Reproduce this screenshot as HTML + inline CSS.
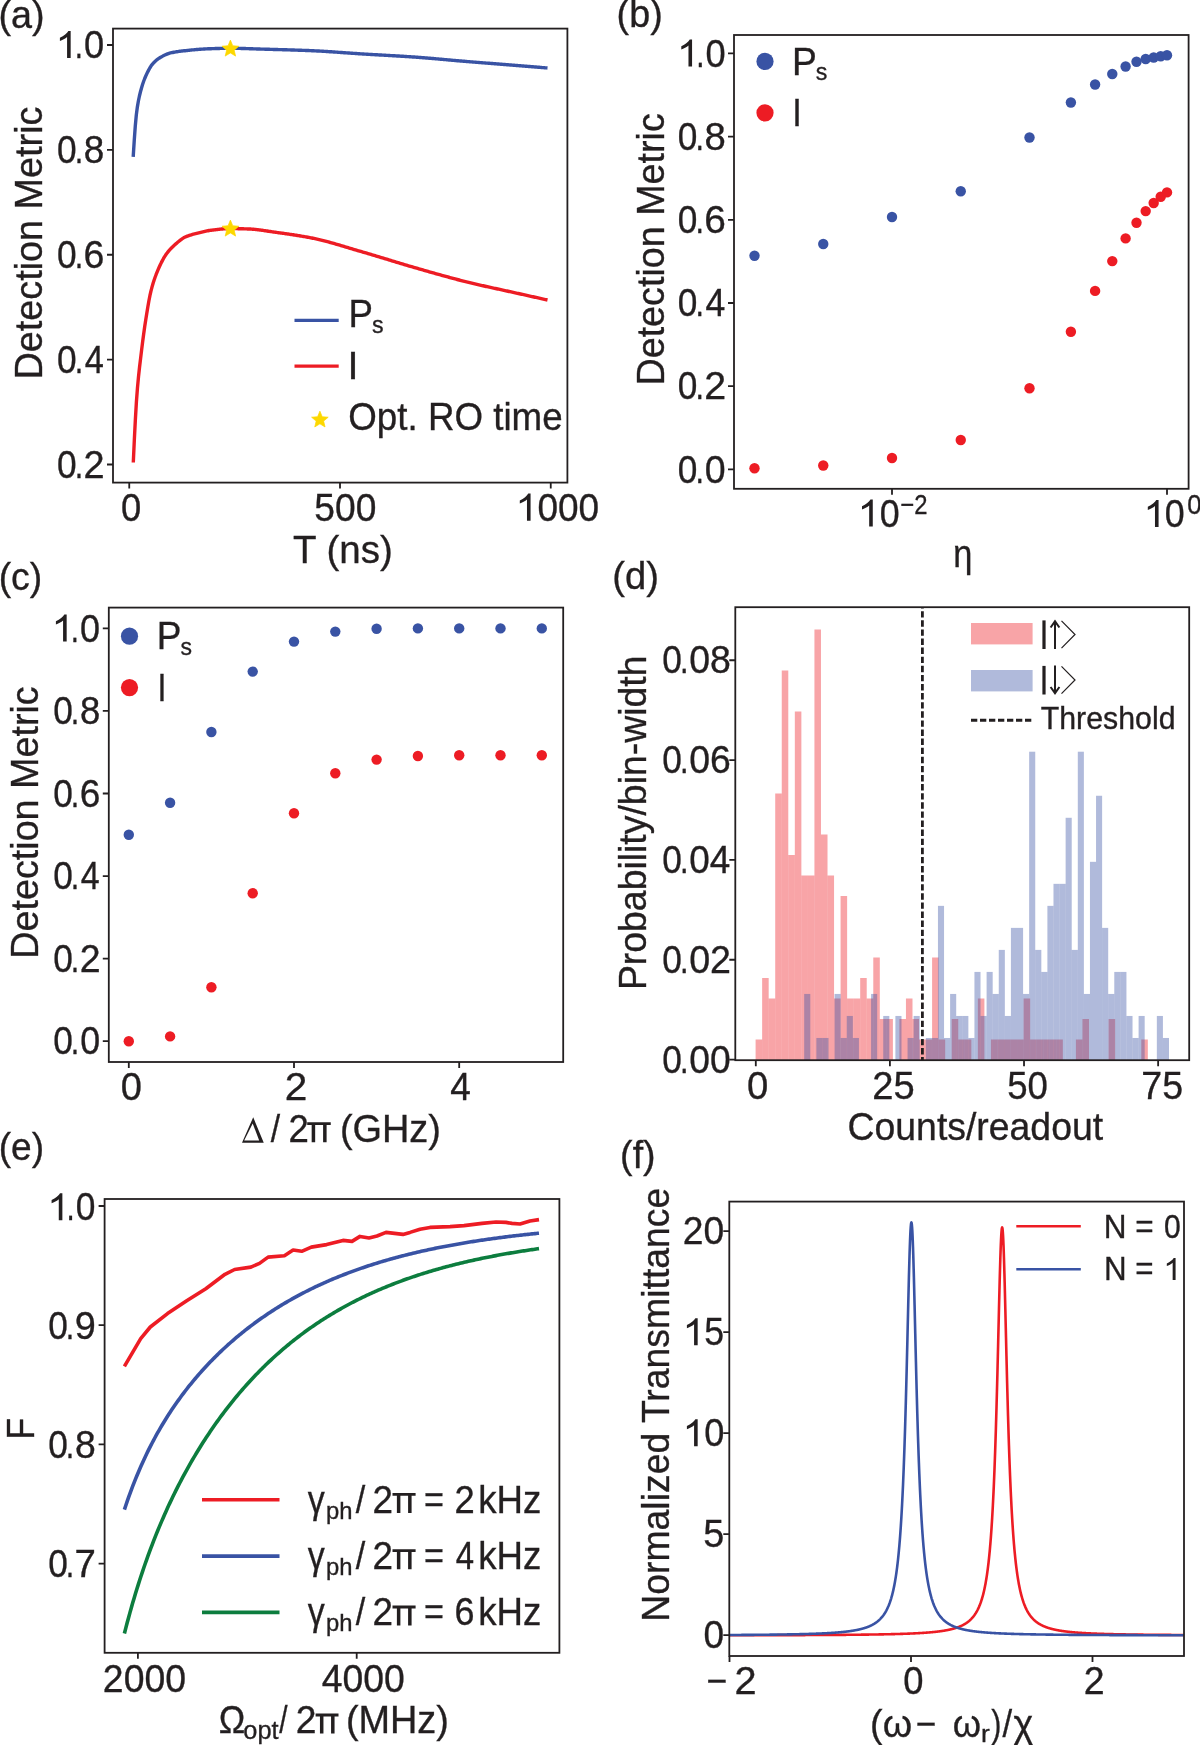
<!DOCTYPE html>
<html><head><meta charset="utf-8"><title>Figure</title><style>
html,body{margin:0;padding:0;background:#fff;width:1200px;height:1745px;overflow:hidden}
svg{display:block;will-change:transform}
text{font-family:"Liberation Sans",sans-serif;font-size:39px;fill:#231f20;stroke:#231f20;stroke-width:0.35px}
</style></head><body>
<svg width="1200" height="1745" viewBox="0 0 1200 1745">
<rect width="1200" height="1745" fill="#fff"/>
<path d="M133.2 156.8 L134.24 140.54 L135.28 126.23 L136.32 114.9 L137.35 107.09 L138.39 100.99 L139.43 95.98 L140.47 91.74 L141.51 87.96 L142.55 84.55 L143.58 81.49 L144.62 78.73 L145.66 76.24 L146.7 73.98 L147.74 71.86 L148.78 69.86 L149.81 68 L150.85 66.32 L151.89 64.83 L152.93 63.57 L153.97 62.47 L155.01 61.46 L156.04 60.53 L157.08 59.68 L158.12 58.91 L159.16 58.2 L160.2 57.55 L161.24 56.95 L162.27 56.38 L163.31 55.83 L164.35 55.31 L165.39 54.82 L166.43 54.36 L167.47 53.94 L168.5 53.56 L169.54 53.23 L170.58 52.95 L171.62 52.71 L172.66 52.49 L173.7 52.28 L174.73 52.09 L175.77 51.91 L176.81 51.74 L177.85 51.59 L178.89 51.44 L179.93 51.3 L180.96 51.17 L182 51.04 L183.04 50.92 L184.08 50.8 L185.12 50.69 L186.16 50.57 L187.19 50.46 L188.23 50.35 L189.27 50.24 L190.31 50.14 L191.35 50.03 L192.39 49.93 L193.42 49.83 L194.46 49.73 L195.5 49.64 L196.54 49.54 L197.58 49.46 L198.62 49.37 L199.65 49.29 L200.69 49.22 L201.73 49.14 L202.77 49.08 L203.81 49.01 L204.85 48.95 L205.88 48.9 L206.92 48.85 L207.96 48.81 L209 48.78 L210.04 48.74 L211.08 48.7 L212.11 48.67 L213.15 48.63 L214.19 48.6 L215.23 48.57 L216.27 48.53 L217.31 48.5 L218.34 48.47 L219.38 48.45 L220.42 48.42 L221.46 48.4 L222.5 48.38 L223.54 48.36 L224.57 48.34 L225.61 48.33 L226.65 48.32 L227.69 48.31 L228.73 48.3 L229.77 48.3 L230.8 48.3 L231.84 48.3 L232.88 48.31 L233.92 48.32 L234.96 48.33 L236 48.35 L237.03 48.36 L238.07 48.38 L239.11 48.4 L240.15 48.42 L241.19 48.45 L242.23 48.47 L243.26 48.5 L244.3 48.53 L245.34 48.56 L246.38 48.59 L247.42 48.62 L248.46 48.66 L249.49 48.69 L250.53 48.72 L251.57 48.76 L252.61 48.79 L253.65 48.83 L254.69 48.87 L255.72 48.9 L256.76 48.94 L257.8 48.97 L258.84 49.01 L259.88 49.04 L260.92 49.08 L261.95 49.11 L262.99 49.14 L264.03 49.17 L265.07 49.2 L266.11 49.23 L267.15 49.26 L268.18 49.29 L269.22 49.32 L270.26 49.35 L271.3 49.38 L272.34 49.41 L273.38 49.44 L274.42 49.46 L275.45 49.49 L276.49 49.52 L277.53 49.55 L278.57 49.58 L279.61 49.61 L280.65 49.64 L281.68 49.67 L282.72 49.7 L283.76 49.73 L284.8 49.76 L285.84 49.79 L286.88 49.82 L287.91 49.85 L288.95 49.89 L289.99 49.92 L291.03 49.95 L292.07 49.98 L293.11 50.02 L294.14 50.05 L295.18 50.08 L296.22 50.12 L297.26 50.15 L298.3 50.19 L299.34 50.22 L300.37 50.26 L301.41 50.3 L302.45 50.34 L303.49 50.37 L304.53 50.41 L305.57 50.45 L306.6 50.49 L307.64 50.53 L308.68 50.57 L309.72 50.62 L310.76 50.66 L311.8 50.7 L312.83 50.75 L313.87 50.8 L314.91 50.85 L315.95 50.9 L316.99 50.95 L318.03 51 L319.06 51.06 L320.1 51.11 L321.14 51.17 L322.18 51.23 L323.22 51.29 L324.26 51.35 L325.29 51.42 L326.33 51.48 L327.37 51.55 L328.41 51.61 L329.45 51.68 L330.49 51.75 L331.52 51.82 L332.56 51.89 L333.6 51.96 L334.64 52.03 L335.68 52.1 L336.72 52.17 L337.75 52.24 L338.79 52.32 L339.83 52.39 L340.87 52.46 L341.91 52.54 L342.95 52.61 L343.98 52.68 L345.02 52.76 L346.06 52.83 L347.1 52.9 L348.14 52.98 L349.18 53.05 L350.21 53.13 L351.25 53.2 L352.29 53.27 L353.33 53.34 L354.37 53.41 L355.41 53.48 L356.44 53.56 L357.48 53.62 L358.52 53.69 L359.56 53.76 L360.6 53.83 L361.64 53.9 L362.67 53.96 L363.71 54.03 L364.75 54.09 L365.79 54.15 L366.83 54.22 L367.87 54.28 L368.9 54.34 L369.94 54.4 L370.98 54.46 L372.02 54.52 L373.06 54.58 L374.1 54.64 L375.13 54.7 L376.17 54.76 L377.21 54.82 L378.25 54.88 L379.29 54.94 L380.33 55 L381.36 55.06 L382.4 55.11 L383.44 55.17 L384.48 55.23 L385.52 55.29 L386.56 55.35 L387.59 55.41 L388.63 55.47 L389.67 55.53 L390.71 55.58 L391.75 55.64 L392.79 55.7 L393.82 55.76 L394.86 55.82 L395.9 55.88 L396.94 55.95 L397.98 56.01 L399.02 56.07 L400.05 56.13 L401.09 56.19 L402.13 56.26 L403.17 56.32 L404.21 56.39 L405.25 56.45 L406.28 56.52 L407.32 56.58 L408.36 56.65 L409.4 56.72 L410.44 56.79 L411.48 56.86 L412.52 56.93 L413.55 57 L414.59 57.07 L415.63 57.14 L416.67 57.22 L417.71 57.29 L418.75 57.37 L419.78 57.45 L420.82 57.53 L421.86 57.61 L422.9 57.69 L423.94 57.77 L424.98 57.86 L426.01 57.94 L427.05 58.03 L428.09 58.11 L429.13 58.2 L430.17 58.29 L431.21 58.38 L432.24 58.47 L433.28 58.56 L434.32 58.65 L435.36 58.74 L436.4 58.83 L437.44 58.92 L438.47 59.01 L439.51 59.1 L440.55 59.2 L441.59 59.29 L442.63 59.38 L443.67 59.48 L444.7 59.57 L445.74 59.66 L446.78 59.76 L447.82 59.85 L448.86 59.94 L449.9 60.04 L450.93 60.13 L451.97 60.22 L453.01 60.32 L454.05 60.41 L455.09 60.5 L456.13 60.59 L457.16 60.69 L458.2 60.78 L459.24 60.87 L460.28 60.96 L461.32 61.05 L462.36 61.14 L463.39 61.22 L464.43 61.31 L465.47 61.4 L466.51 61.48 L467.55 61.57 L468.59 61.65 L469.62 61.74 L470.66 61.82 L471.7 61.91 L472.74 61.99 L473.78 62.08 L474.82 62.16 L475.85 62.24 L476.89 62.33 L477.93 62.41 L478.97 62.49 L480.01 62.57 L481.05 62.66 L482.08 62.74 L483.12 62.82 L484.16 62.9 L485.2 62.98 L486.24 63.07 L487.28 63.15 L488.31 63.23 L489.35 63.31 L490.39 63.39 L491.43 63.47 L492.47 63.56 L493.51 63.64 L494.54 63.72 L495.58 63.8 L496.62 63.88 L497.66 63.96 L498.7 64.04 L499.74 64.13 L500.77 64.21 L501.81 64.29 L502.85 64.37 L503.89 64.45 L504.93 64.53 L505.97 64.62 L507 64.7 L508.04 64.78 L509.08 64.86 L510.12 64.94 L511.16 65.03 L512.2 65.11 L513.23 65.19 L514.27 65.28 L515.31 65.36 L516.35 65.44 L517.39 65.53 L518.43 65.61 L519.46 65.69 L520.5 65.78 L521.54 65.86 L522.58 65.95 L523.62 66.03 L524.66 66.12 L525.69 66.2 L526.73 66.29 L527.77 66.37 L528.81 66.46 L529.85 66.54 L530.89 66.63 L531.92 66.71 L532.96 66.8 L534 66.88 L535.04 66.97 L536.08 67.05 L537.12 67.14 L538.15 67.23 L539.19 67.31 L540.23 67.4 L541.27 67.48 L542.31 67.57 L543.35 67.65 L544.38 67.74 L545.42 67.83 L546.46 67.91 L547.5 68" fill="none" stroke="#3953a4" stroke-width="3.4" stroke-linejoin="round"/>
<path d="M133.3 462.5 L134.34 439.79 L135.38 419.3 L136.41 401.81 L137.45 388.02 L138.49 376.85 L139.53 367.28 L140.57 358.6 L141.6 350.14 L142.64 341.83 L143.68 333.96 L144.72 326.61 L145.76 319.8 L146.8 313.28 L147.83 306.98 L148.87 301.07 L149.91 295.72 L150.95 291.11 L151.99 287.17 L153.02 283.58 L154.06 280.29 L155.1 277.27 L156.14 274.48 L157.18 271.87 L158.21 269.4 L159.25 267.04 L160.29 264.78 L161.33 262.63 L162.37 260.6 L163.4 258.7 L164.44 256.92 L165.48 255.29 L166.52 253.8 L167.56 252.42 L168.6 251.14 L169.63 249.93 L170.67 248.8 L171.71 247.73 L172.75 246.72 L173.79 245.75 L174.82 244.81 L175.86 243.88 L176.9 242.96 L177.94 242.06 L178.98 241.19 L180.01 240.35 L181.05 239.56 L182.09 238.82 L183.13 238.15 L184.17 237.55 L185.2 237.03 L186.24 236.59 L187.28 236.17 L188.32 235.79 L189.36 235.42 L190.4 235.08 L191.43 234.76 L192.47 234.45 L193.51 234.16 L194.55 233.88 L195.59 233.62 L196.62 233.36 L197.66 233.11 L198.7 232.87 L199.74 232.63 L200.78 232.39 L201.81 232.14 L202.85 231.9 L203.89 231.65 L204.93 231.41 L205.97 231.17 L207 230.95 L208.04 230.73 L209.08 230.53 L210.12 230.35 L211.16 230.2 L212.2 230.06 L213.23 229.94 L214.27 229.82 L215.31 229.69 L216.35 229.57 L217.39 229.46 L218.42 229.34 L219.46 229.24 L220.5 229.13 L221.54 229.04 L222.58 228.95 L223.61 228.87 L224.65 228.8 L225.69 228.74 L226.73 228.69 L227.77 228.65 L228.8 228.62 L229.84 228.6 L230.88 228.6 L231.92 228.6 L232.96 228.61 L234 228.62 L235.03 228.63 L236.07 228.64 L237.11 228.66 L238.15 228.68 L239.19 228.7 L240.22 228.73 L241.26 228.75 L242.3 228.78 L243.34 228.81 L244.38 228.84 L245.41 228.88 L246.45 228.91 L247.49 228.94 L248.53 228.98 L249.57 229.02 L250.6 229.07 L251.64 229.13 L252.68 229.2 L253.72 229.29 L254.76 229.38 L255.8 229.48 L256.83 229.6 L257.87 229.72 L258.91 229.85 L259.95 229.98 L260.99 230.12 L262.02 230.26 L263.06 230.41 L264.1 230.57 L265.14 230.72 L266.18 230.88 L267.21 231.04 L268.25 231.2 L269.29 231.36 L270.33 231.52 L271.37 231.67 L272.4 231.83 L273.44 231.98 L274.48 232.13 L275.52 232.27 L276.56 232.41 L277.6 232.56 L278.63 232.7 L279.67 232.85 L280.71 232.99 L281.75 233.13 L282.79 233.28 L283.82 233.43 L284.86 233.57 L285.9 233.72 L286.94 233.87 L287.98 234.02 L289.01 234.17 L290.05 234.33 L291.09 234.48 L292.13 234.64 L293.17 234.8 L294.2 234.96 L295.24 235.12 L296.28 235.28 L297.32 235.45 L298.36 235.61 L299.4 235.78 L300.43 235.96 L301.47 236.13 L302.51 236.31 L303.55 236.49 L304.59 236.67 L305.62 236.85 L306.66 237.04 L307.7 237.23 L308.74 237.43 L309.78 237.63 L310.81 237.83 L311.85 238.03 L312.89 238.24 L313.93 238.45 L314.97 238.67 L316 238.9 L317.04 239.13 L318.08 239.37 L319.12 239.61 L320.16 239.86 L321.2 240.11 L322.23 240.36 L323.27 240.62 L324.31 240.89 L325.35 241.15 L326.39 241.42 L327.42 241.7 L328.46 241.98 L329.5 242.26 L330.54 242.54 L331.58 242.83 L332.61 243.12 L333.65 243.42 L334.69 243.71 L335.73 244.01 L336.77 244.31 L337.8 244.61 L338.84 244.92 L339.88 245.22 L340.92 245.53 L341.96 245.84 L343 246.15 L344.03 246.46 L345.07 246.77 L346.11 247.08 L347.15 247.4 L348.19 247.71 L349.22 248.02 L350.26 248.34 L351.3 248.65 L352.34 248.96 L353.38 249.27 L354.41 249.58 L355.45 249.9 L356.49 250.21 L357.53 250.51 L358.57 250.82 L359.6 251.13 L360.64 251.43 L361.68 251.73 L362.72 252.03 L363.76 252.33 L364.8 252.63 L365.83 252.93 L366.87 253.23 L367.91 253.54 L368.95 253.84 L369.99 254.15 L371.02 254.46 L372.06 254.77 L373.1 255.08 L374.14 255.39 L375.18 255.7 L376.21 256.01 L377.25 256.32 L378.29 256.64 L379.33 256.95 L380.37 257.27 L381.4 257.58 L382.44 257.9 L383.48 258.22 L384.52 258.53 L385.56 258.85 L386.6 259.17 L387.63 259.49 L388.67 259.81 L389.71 260.12 L390.75 260.44 L391.79 260.76 L392.82 261.08 L393.86 261.39 L394.9 261.71 L395.94 262.03 L396.98 262.34 L398.01 262.66 L399.05 262.98 L400.09 263.29 L401.13 263.6 L402.17 263.92 L403.2 264.23 L404.24 264.54 L405.28 264.85 L406.32 265.16 L407.36 265.47 L408.4 265.78 L409.43 266.08 L410.47 266.39 L411.51 266.69 L412.55 266.99 L413.59 267.29 L414.62 267.59 L415.66 267.89 L416.7 268.19 L417.74 268.49 L418.78 268.78 L419.81 269.08 L420.85 269.38 L421.89 269.68 L422.93 269.97 L423.97 270.27 L425 270.57 L426.04 270.87 L427.08 271.16 L428.12 271.46 L429.16 271.76 L430.2 272.05 L431.23 272.35 L432.27 272.64 L433.31 272.94 L434.35 273.23 L435.39 273.52 L436.42 273.82 L437.46 274.11 L438.5 274.4 L439.54 274.69 L440.58 274.98 L441.61 275.27 L442.65 275.56 L443.69 275.84 L444.73 276.13 L445.77 276.41 L446.8 276.7 L447.84 276.98 L448.88 277.26 L449.92 277.55 L450.96 277.82 L452 278.1 L453.03 278.38 L454.07 278.66 L455.11 278.93 L456.15 279.21 L457.19 279.48 L458.22 279.75 L459.26 280.02 L460.3 280.29 L461.34 280.55 L462.38 280.82 L463.41 281.08 L464.45 281.34 L465.49 281.6 L466.53 281.86 L467.57 282.11 L468.6 282.37 L469.64 282.62 L470.68 282.87 L471.72 283.12 L472.76 283.37 L473.8 283.61 L474.83 283.86 L475.87 284.1 L476.91 284.34 L477.95 284.59 L478.99 284.82 L480.02 285.06 L481.06 285.3 L482.1 285.54 L483.14 285.77 L484.18 286 L485.21 286.24 L486.25 286.47 L487.29 286.7 L488.33 286.93 L489.37 287.16 L490.4 287.39 L491.44 287.62 L492.48 287.85 L493.52 288.08 L494.56 288.3 L495.6 288.53 L496.63 288.76 L497.67 288.98 L498.71 289.21 L499.75 289.43 L500.79 289.66 L501.82 289.89 L502.86 290.11 L503.9 290.34 L504.94 290.56 L505.98 290.79 L507.01 291.01 L508.05 291.24 L509.09 291.47 L510.13 291.69 L511.17 291.92 L512.2 292.15 L513.24 292.38 L514.28 292.61 L515.32 292.84 L516.36 293.07 L517.4 293.3 L518.43 293.53 L519.47 293.76 L520.51 293.99 L521.55 294.23 L522.59 294.46 L523.62 294.69 L524.66 294.92 L525.7 295.15 L526.74 295.38 L527.78 295.62 L528.81 295.85 L529.85 296.08 L530.89 296.31 L531.93 296.54 L532.97 296.77 L534 297 L535.04 297.23 L536.08 297.46 L537.12 297.69 L538.16 297.93 L539.2 298.16 L540.23 298.39 L541.27 298.62 L542.31 298.85 L543.35 299.08 L544.39 299.31 L545.42 299.54 L546.46 299.77 L547.5 300" fill="none" stroke="#ed1c24" stroke-width="3.4" stroke-linejoin="round"/>
<path d="M230.4 40.1 L232.74 45.73 L238.82 46.22 L234.19 50.18 L235.6 56.11 L230.4 52.93 L225.2 56.11 L226.61 50.18 L221.98 46.22 L228.06 45.73Z" fill="#fdd800" stroke="#fdd800" stroke-width="0.7" stroke-linejoin="round"/>
<path d="M230.4 220.1 L232.74 225.73 L238.82 226.22 L234.19 230.18 L235.6 236.11 L230.4 232.93 L225.2 236.11 L226.61 230.18 L221.98 226.22 L228.06 225.73Z" fill="#fdd800" stroke="#fdd800" stroke-width="0.7" stroke-linejoin="round"/>
<rect x="113" y="28.6" width="454.4" height="454" fill="none" stroke="#231f20" stroke-width="1.8"/>
<path d="M107 45H113M107 149.88H113M107 254.76H113M107 359.64H113M107 464.52H113" stroke="#231f20" stroke-width="1.8"/>
<path d="M129.25 482.6V488.6M340 482.6V488.6M550.75 482.6V488.6" stroke="#231f20" stroke-width="1.8"/>
<text x="-1.59" y="27.6" textLength="46.19" lengthAdjust="spacingAndGlyphs">(a)</text>
<path transform="translate(55.45 58) scale(0.019944 -0.018410)" d="M763 0H583V1147Q518 1085 412.5 1023Q307 961 223 930V1104Q374 1175 487 1276Q600 1377 647 1472H763Z" fill="#231f20"/>
<text x="74.86" y="58" textLength="8.17" lengthAdjust="spacingAndGlyphs">.</text>
<text x="84.04" y="58" textLength="20.13" lengthAdjust="spacingAndGlyphs">0</text>
<text x="57.07" y="162.9" textLength="19.6" lengthAdjust="spacingAndGlyphs">0</text>
<text x="74.72" y="162.9" textLength="8.46" lengthAdjust="spacingAndGlyphs">.</text>
<text x="83.85" y="162.9" textLength="20.5" lengthAdjust="spacingAndGlyphs">8</text>
<text x="57.07" y="267.8" textLength="19.6" lengthAdjust="spacingAndGlyphs">0</text>
<text x="74.72" y="267.8" textLength="8.46" lengthAdjust="spacingAndGlyphs">.</text>
<text x="83.55" y="267.8" textLength="20.85" lengthAdjust="spacingAndGlyphs">6</text>
<text x="57.07" y="372.7" textLength="19.6" lengthAdjust="spacingAndGlyphs">0</text>
<text x="74.72" y="372.7" textLength="8.46" lengthAdjust="spacingAndGlyphs">.</text>
<text x="84.66" y="372.7" textLength="19.09" lengthAdjust="spacingAndGlyphs">4</text>
<text x="57.07" y="477.6" textLength="19.6" lengthAdjust="spacingAndGlyphs">0</text>
<text x="74.72" y="477.6" textLength="8.46" lengthAdjust="spacingAndGlyphs">.</text>
<text x="83.54" y="477.6" textLength="21.12" lengthAdjust="spacingAndGlyphs">2</text>
<text x="121.03" y="520.5" textLength="20.24" lengthAdjust="spacingAndGlyphs">0</text>
<text x="314.36" y="520.9" textLength="62.04" lengthAdjust="spacingAndGlyphs">500</text>
<path transform="translate(515.35 520.7) scale(0.019944 -0.018410)" d="M763 0H583V1147Q518 1085 412.5 1023Q307 961 223 930V1104Q374 1175 487 1276Q600 1377 647 1472H763Z" fill="#231f20"/>
<text x="537.41" y="520.7" textLength="61.69" lengthAdjust="spacingAndGlyphs">000</text>
<text x="292.89" y="562.7" textLength="99.83" lengthAdjust="spacingAndGlyphs">T (ns)</text>
<text transform="translate(42.3 379.55) rotate(-90)" x="0" y="0" textLength="273" lengthAdjust="spacingAndGlyphs">Detection Metric</text>
<path d="M294.5 320.4 L338.7 320.4" fill="none" stroke="#3953a4" stroke-width="3.4" stroke-linejoin="round"/>
<path d="M294.5 366.1 L338.7 366.1" fill="none" stroke="#ed1c24" stroke-width="3.4" stroke-linejoin="round"/>
<text x="348.44" y="327" textLength="24.44" lengthAdjust="spacingAndGlyphs">P</text>
<text x="372.06" y="332.6" textLength="11.58" lengthAdjust="spacingAndGlyphs" style="font-size:24px;">s</text>
<text x="347.59" y="378.9" textLength="11.02" lengthAdjust="spacingAndGlyphs">I</text>
<path d="M319.9 411.15 L322.21 416.71 L328.22 417.2 L323.64 421.12 L325.04 426.98 L319.9 423.84 L314.76 426.98 L316.16 421.12 L311.58 417.2 L317.59 416.71Z" fill="#fdd800" stroke="#fdd800" stroke-width="0.7" stroke-linejoin="round"/>
<text x="348.31" y="430.3" textLength="214.27" lengthAdjust="spacingAndGlyphs">Opt. RO time</text>
<circle cx="754.5" cy="468.25" r="5.2" fill="#ed1c24"/>
<circle cx="823.25" cy="465.5" r="5.2" fill="#ed1c24"/>
<circle cx="892" cy="458" r="5.2" fill="#ed1c24"/>
<circle cx="960.75" cy="440" r="5.2" fill="#ed1c24"/>
<circle cx="1029.5" cy="388.2" r="5.2" fill="#ed1c24"/>
<circle cx="1070.89" cy="331.8" r="5.2" fill="#ed1c24"/>
<circle cx="1095.1" cy="290.9" r="5.2" fill="#ed1c24"/>
<circle cx="1112.28" cy="261.1" r="5.2" fill="#ed1c24"/>
<circle cx="1125.61" cy="238.4" r="5.2" fill="#ed1c24"/>
<circle cx="1136.5" cy="222.7" r="5.2" fill="#ed1c24"/>
<circle cx="1145.7" cy="211.1" r="5.2" fill="#ed1c24"/>
<circle cx="1153.67" cy="203" r="5.2" fill="#ed1c24"/>
<circle cx="1160.71" cy="196.8" r="5.2" fill="#ed1c24"/>
<circle cx="1167" cy="192.4" r="5.2" fill="#ed1c24"/>
<circle cx="754.5" cy="255.7" r="5.2" fill="#3953a4"/>
<circle cx="823.25" cy="244" r="5.2" fill="#3953a4"/>
<circle cx="892" cy="217" r="5.2" fill="#3953a4"/>
<circle cx="960.75" cy="191.3" r="5.2" fill="#3953a4"/>
<circle cx="1029.5" cy="137.5" r="5.2" fill="#3953a4"/>
<circle cx="1070.89" cy="102.5" r="5.2" fill="#3953a4"/>
<circle cx="1095.1" cy="84.5" r="5.2" fill="#3953a4"/>
<circle cx="1112.28" cy="74" r="5.2" fill="#3953a4"/>
<circle cx="1125.61" cy="66.5" r="5.2" fill="#3953a4"/>
<circle cx="1136.5" cy="61.75" r="5.2" fill="#3953a4"/>
<circle cx="1145.7" cy="59" r="5.2" fill="#3953a4"/>
<circle cx="1153.67" cy="57.5" r="5.2" fill="#3953a4"/>
<circle cx="1160.71" cy="56.25" r="5.2" fill="#3953a4"/>
<circle cx="1167" cy="55.25" r="5.2" fill="#3953a4"/>
<rect x="734" y="35" width="454.6" height="453.8" fill="none" stroke="#231f20" stroke-width="1.8"/>
<path d="M728 53.4H734M728 136.6H734M728 219.8H734M728 303H734M728 386.2H734M728 469.4H734" stroke="#231f20" stroke-width="1.8"/>
<path d="M892 488.8V494.8M1167 488.8V494.8" stroke="#231f20" stroke-width="1.8"/>
<text x="616.61" y="27.4" textLength="46.08" lengthAdjust="spacingAndGlyphs">(b)</text>
<path transform="translate(676.85 66.5) scale(0.019944 -0.018410)" d="M763 0H583V1147Q518 1085 412.5 1023Q307 961 223 930V1104Q374 1175 487 1276Q600 1377 647 1472H763Z" fill="#231f20"/>
<text x="696.26" y="66.5" textLength="8.17" lengthAdjust="spacingAndGlyphs">.</text>
<text x="705.44" y="66.5" textLength="20.13" lengthAdjust="spacingAndGlyphs">0</text>
<text x="677.82" y="149.7" textLength="19.6" lengthAdjust="spacingAndGlyphs">0</text>
<text x="695.47" y="149.7" textLength="8.46" lengthAdjust="spacingAndGlyphs">.</text>
<text x="704.54" y="149.7" textLength="21.27" lengthAdjust="spacingAndGlyphs">8</text>
<text x="677.82" y="232.9" textLength="19.6" lengthAdjust="spacingAndGlyphs">0</text>
<text x="695.47" y="232.9" textLength="8.46" lengthAdjust="spacingAndGlyphs">.</text>
<text x="704.22" y="232.9" textLength="21.63" lengthAdjust="spacingAndGlyphs">6</text>
<text x="677.82" y="316.1" textLength="19.6" lengthAdjust="spacingAndGlyphs">0</text>
<text x="695.47" y="316.1" textLength="8.46" lengthAdjust="spacingAndGlyphs">.</text>
<text x="705.38" y="316.1" textLength="19.81" lengthAdjust="spacingAndGlyphs">4</text>
<text x="677.82" y="399.3" textLength="19.6" lengthAdjust="spacingAndGlyphs">0</text>
<text x="695.47" y="399.3" textLength="8.46" lengthAdjust="spacingAndGlyphs">.</text>
<text x="704.22" y="399.3" textLength="21.91" lengthAdjust="spacingAndGlyphs">2</text>
<text x="677.82" y="482.5" textLength="19.6" lengthAdjust="spacingAndGlyphs">0</text>
<text x="695.47" y="482.5" textLength="8.46" lengthAdjust="spacingAndGlyphs">.</text>
<text x="704.73" y="482.5" textLength="20.88" lengthAdjust="spacingAndGlyphs">0</text>
<path transform="translate(857.55 526.6) scale(0.019944 -0.018410)" d="M763 0H583V1147Q518 1085 412.5 1023Q307 961 223 930V1104Q374 1175 487 1276Q600 1377 647 1472H763Z" fill="#231f20"/>
<text x="879.75" y="526.6" textLength="19.89" lengthAdjust="spacingAndGlyphs">0</text>
<text x="900.27" y="513.7" textLength="27.17" lengthAdjust="spacingAndGlyphs" style="font-size:27.8px;">−2</text>
<path transform="translate(1143.35 527) scale(0.019944 -0.018410)" d="M763 0H583V1147Q518 1085 412.5 1023Q307 961 223 930V1104Q374 1175 487 1276Q600 1377 647 1472H763Z" fill="#231f20"/>
<text x="1164.75" y="527" textLength="19.89" lengthAdjust="spacingAndGlyphs">0</text>
<text x="1187.24" y="513.7" textLength="14.31" lengthAdjust="spacingAndGlyphs" style="font-size:27.8px;">0</text>
<text x="953.27" y="566.9" textLength="19.11" lengthAdjust="spacingAndGlyphs">η</text>
<text transform="translate(663.5 385.54) rotate(-90)" x="0" y="0" textLength="272.34" lengthAdjust="spacingAndGlyphs">Detection Metric</text>
<circle cx="765" cy="61.4" r="8.6" fill="#3953a4"/>
<circle cx="765" cy="112.8" r="8.6" fill="#ed1c24"/>
<text x="792" y="74.5" textLength="24.81" lengthAdjust="spacingAndGlyphs">P</text>
<text x="815.71" y="79.9" textLength="11.58" lengthAdjust="spacingAndGlyphs" style="font-size:24px;">s</text>
<text x="792.28" y="125.9" textLength="9.53" lengthAdjust="spacingAndGlyphs">I</text>
<circle cx="128.8" cy="1041.2" r="5.2" fill="#ed1c24"/>
<circle cx="170.1" cy="1036.4" r="5.2" fill="#ed1c24"/>
<circle cx="211.4" cy="987.2" r="5.2" fill="#ed1c24"/>
<circle cx="252.7" cy="893.2" r="5.2" fill="#ed1c24"/>
<circle cx="294" cy="813.2" r="5.2" fill="#ed1c24"/>
<circle cx="335.3" cy="773.2" r="5.2" fill="#ed1c24"/>
<circle cx="376.6" cy="759.6" r="5.2" fill="#ed1c24"/>
<circle cx="417.9" cy="756" r="5.2" fill="#ed1c24"/>
<circle cx="459.2" cy="755.2" r="5.2" fill="#ed1c24"/>
<circle cx="500.5" cy="755.2" r="5.2" fill="#ed1c24"/>
<circle cx="541.8" cy="755.2" r="5.2" fill="#ed1c24"/>
<circle cx="128.8" cy="834.8" r="5.2" fill="#3953a4"/>
<circle cx="170.1" cy="802.8" r="5.2" fill="#3953a4"/>
<circle cx="211.4" cy="732" r="5.2" fill="#3953a4"/>
<circle cx="252.7" cy="671.6" r="5.2" fill="#3953a4"/>
<circle cx="294" cy="641.6" r="5.2" fill="#3953a4"/>
<circle cx="335.3" cy="631.6" r="5.2" fill="#3953a4"/>
<circle cx="376.6" cy="628.8" r="5.2" fill="#3953a4"/>
<circle cx="417.9" cy="628.4" r="5.2" fill="#3953a4"/>
<circle cx="459.2" cy="628.4" r="5.2" fill="#3953a4"/>
<circle cx="500.5" cy="628.4" r="5.2" fill="#3953a4"/>
<circle cx="541.8" cy="628.4" r="5.2" fill="#3953a4"/>
<rect x="108.8" y="607.6" width="454.4" height="454.4" fill="none" stroke="#231f20" stroke-width="1.8"/>
<path d="M102.8 628.4H108.8M102.8 710.96H108.8M102.8 793.52H108.8M102.8 876.08H108.8M102.8 958.64H108.8M102.8 1041.2H108.8" stroke="#231f20" stroke-width="1.8"/>
<path d="M128.8 1062V1068M294 1062V1068M459.2 1062V1068" stroke="#231f20" stroke-width="1.8"/>
<text x="-1.37" y="589.5" textLength="43.64" lengthAdjust="spacingAndGlyphs">(c)</text>
<path transform="translate(51.45 641.6) scale(0.019944 -0.018410)" d="M763 0H583V1147Q518 1085 412.5 1023Q307 961 223 930V1104Q374 1175 487 1276Q600 1377 647 1472H763Z" fill="#231f20"/>
<text x="70.86" y="641.6" textLength="8.17" lengthAdjust="spacingAndGlyphs">.</text>
<text x="80.04" y="641.6" textLength="20.01" lengthAdjust="spacingAndGlyphs">0</text>
<text x="53.17" y="724.16" textLength="19.6" lengthAdjust="spacingAndGlyphs">0</text>
<text x="70.82" y="724.16" textLength="8.46" lengthAdjust="spacingAndGlyphs">.</text>
<text x="79.97" y="724.16" textLength="20.27" lengthAdjust="spacingAndGlyphs">8</text>
<text x="53.17" y="806.72" textLength="19.6" lengthAdjust="spacingAndGlyphs">0</text>
<text x="70.82" y="806.72" textLength="8.46" lengthAdjust="spacingAndGlyphs">.</text>
<text x="79.67" y="806.72" textLength="20.61" lengthAdjust="spacingAndGlyphs">6</text>
<text x="53.17" y="889.28" textLength="19.6" lengthAdjust="spacingAndGlyphs">0</text>
<text x="70.82" y="889.28" textLength="8.46" lengthAdjust="spacingAndGlyphs">.</text>
<text x="80.77" y="889.28" textLength="18.87" lengthAdjust="spacingAndGlyphs">4</text>
<text x="53.17" y="971.84" textLength="19.6" lengthAdjust="spacingAndGlyphs">0</text>
<text x="70.82" y="971.84" textLength="8.46" lengthAdjust="spacingAndGlyphs">.</text>
<text x="79.66" y="971.84" textLength="20.88" lengthAdjust="spacingAndGlyphs">2</text>
<text x="53.17" y="1054.4" textLength="19.6" lengthAdjust="spacingAndGlyphs">0</text>
<text x="70.82" y="1054.4" textLength="8.46" lengthAdjust="spacingAndGlyphs">.</text>
<text x="80.15" y="1054.4" textLength="19.89" lengthAdjust="spacingAndGlyphs">0</text>
<text x="120.66" y="1099.6" textLength="21.17" lengthAdjust="spacingAndGlyphs">0</text>
<text x="284.81" y="1099.6" textLength="22.58" lengthAdjust="spacingAndGlyphs">2</text>
<text x="450.3" y="1099.6" textLength="20.53" lengthAdjust="spacingAndGlyphs">4</text>
<path d="M253.22 1117.25L263.75 1142.75L242 1142.75ZM252.72 1123.45L244.18 1140.55L259.18 1140.55Z" fill="#231f20" fill-rule="evenodd"/>
<text x="270.7" y="1142.2" textLength="9.35" lengthAdjust="spacingAndGlyphs">/</text>
<text x="288.61" y="1142.2" textLength="20.39" lengthAdjust="spacingAndGlyphs">2</text>
<path d="M307.2 1122.3h23.55v2.8h-23.55zM311.67 1124.9h3.5V1142.3h-3.5zM323.1 1124.9h3.5V1142.3h-3.5z" fill="#231f20"/>
<text x="339.9" y="1142.2" textLength="101" lengthAdjust="spacingAndGlyphs">(GHz)</text>
<text transform="translate(38 958.64) rotate(-90)" x="0" y="0" textLength="272.29" lengthAdjust="spacingAndGlyphs">Detection Metric</text>
<circle cx="129.5" cy="636.2" r="8.6" fill="#3953a4"/>
<circle cx="129.5" cy="687.6" r="8.6" fill="#ed1c24"/>
<text x="156.71" y="649.1" textLength="24.69" lengthAdjust="spacingAndGlyphs">P</text>
<text x="180.41" y="654.9" textLength="11.47" lengthAdjust="spacingAndGlyphs" style="font-size:24px;">s</text>
<text x="157.38" y="700.9" textLength="8.94" lengthAdjust="spacingAndGlyphs">I</text>
<rect x="755.6" y="1039.5" width="6.54" height="20.5" fill="#ed1c24" fill-opacity="0.4"/>
<rect x="762.14" y="978" width="6.54" height="82" fill="#ed1c24" fill-opacity="0.4"/>
<rect x="768.67" y="998.5" width="6.54" height="61.5" fill="#ed1c24" fill-opacity="0.4"/>
<rect x="775.21" y="793.5" width="6.54" height="266.5" fill="#ed1c24" fill-opacity="0.4"/>
<rect x="781.75" y="670.5" width="6.54" height="389.5" fill="#ed1c24" fill-opacity="0.4"/>
<rect x="788.29" y="855" width="6.54" height="205" fill="#ed1c24" fill-opacity="0.4"/>
<rect x="794.82" y="711.5" width="6.54" height="348.5" fill="#ed1c24" fill-opacity="0.4"/>
<rect x="801.36" y="875.5" width="6.54" height="184.5" fill="#ed1c24" fill-opacity="0.4"/>
<rect x="807.9" y="875.5" width="6.54" height="184.5" fill="#ed1c24" fill-opacity="0.4"/>
<rect x="814.43" y="629.5" width="6.54" height="430.5" fill="#ed1c24" fill-opacity="0.4"/>
<rect x="820.97" y="834.5" width="6.54" height="225.5" fill="#ed1c24" fill-opacity="0.4"/>
<rect x="827.51" y="875.5" width="6.54" height="184.5" fill="#ed1c24" fill-opacity="0.4"/>
<rect x="834.04" y="998.5" width="6.54" height="61.5" fill="#ed1c24" fill-opacity="0.4"/>
<rect x="840.58" y="896" width="6.54" height="164" fill="#ed1c24" fill-opacity="0.4"/>
<rect x="847.12" y="998.5" width="6.54" height="61.5" fill="#ed1c24" fill-opacity="0.4"/>
<rect x="853.65" y="998.5" width="6.54" height="61.5" fill="#ed1c24" fill-opacity="0.4"/>
<rect x="860.19" y="978" width="6.54" height="82" fill="#ed1c24" fill-opacity="0.4"/>
<rect x="866.73" y="998.5" width="6.54" height="61.5" fill="#ed1c24" fill-opacity="0.4"/>
<rect x="873.27" y="957.5" width="6.54" height="102.5" fill="#ed1c24" fill-opacity="0.4"/>
<rect x="879.8" y="1019" width="6.54" height="41" fill="#ed1c24" fill-opacity="0.4"/>
<rect x="886.34" y="1019" width="6.54" height="41" fill="#ed1c24" fill-opacity="0.4"/>
<rect x="899.41" y="1019" width="6.54" height="41" fill="#ed1c24" fill-opacity="0.4"/>
<rect x="905.95" y="998.5" width="6.54" height="61.5" fill="#ed1c24" fill-opacity="0.4"/>
<rect x="912.49" y="1019" width="6.54" height="41" fill="#ed1c24" fill-opacity="0.4"/>
<rect x="919.03" y="1039.5" width="6.54" height="20.5" fill="#ed1c24" fill-opacity="0.4"/>
<rect x="925.56" y="1039.5" width="6.54" height="20.5" fill="#ed1c24" fill-opacity="0.4"/>
<rect x="932.1" y="957.5" width="6.54" height="102.5" fill="#ed1c24" fill-opacity="0.4"/>
<rect x="938.64" y="1039.5" width="6.54" height="20.5" fill="#ed1c24" fill-opacity="0.4"/>
<rect x="951.71" y="1019" width="6.54" height="41" fill="#ed1c24" fill-opacity="0.4"/>
<rect x="958.25" y="1039.5" width="6.54" height="20.5" fill="#ed1c24" fill-opacity="0.4"/>
<rect x="964.78" y="1039.5" width="6.54" height="20.5" fill="#ed1c24" fill-opacity="0.4"/>
<rect x="977.86" y="998.5" width="6.54" height="61.5" fill="#ed1c24" fill-opacity="0.4"/>
<rect x="990.93" y="1039.5" width="6.54" height="20.5" fill="#ed1c24" fill-opacity="0.4"/>
<rect x="997.47" y="1039.5" width="6.54" height="20.5" fill="#ed1c24" fill-opacity="0.4"/>
<rect x="1004.01" y="1039.5" width="6.54" height="20.5" fill="#ed1c24" fill-opacity="0.4"/>
<rect x="1010.54" y="1039.5" width="6.54" height="20.5" fill="#ed1c24" fill-opacity="0.4"/>
<rect x="1017.08" y="1039.5" width="6.54" height="20.5" fill="#ed1c24" fill-opacity="0.4"/>
<rect x="1023.62" y="998.5" width="6.54" height="61.5" fill="#ed1c24" fill-opacity="0.4"/>
<rect x="1030.15" y="1039.5" width="6.54" height="20.5" fill="#ed1c24" fill-opacity="0.4"/>
<rect x="1036.69" y="1039.5" width="6.54" height="20.5" fill="#ed1c24" fill-opacity="0.4"/>
<rect x="1043.23" y="1039.5" width="6.54" height="20.5" fill="#ed1c24" fill-opacity="0.4"/>
<rect x="1049.77" y="1039.5" width="6.54" height="20.5" fill="#ed1c24" fill-opacity="0.4"/>
<rect x="1056.3" y="1039.5" width="6.54" height="20.5" fill="#ed1c24" fill-opacity="0.4"/>
<rect x="1075.91" y="1039.5" width="6.54" height="20.5" fill="#ed1c24" fill-opacity="0.4"/>
<rect x="1082.45" y="1019" width="6.54" height="41" fill="#ed1c24" fill-opacity="0.4"/>
<rect x="1108.6" y="1019" width="6.54" height="41" fill="#ed1c24" fill-opacity="0.4"/>
<rect x="1141.28" y="1039.5" width="6.54" height="20.5" fill="#ed1c24" fill-opacity="0.4"/>
<rect x="804.2" y="993.94" width="6.08" height="66.06" fill="#3953a4" fill-opacity="0.4"/>
<rect x="816.36" y="1037.98" width="6.08" height="22.02" fill="#3953a4" fill-opacity="0.4"/>
<rect x="822.44" y="1037.98" width="6.08" height="22.02" fill="#3953a4" fill-opacity="0.4"/>
<rect x="834.6" y="993.94" width="6.08" height="66.06" fill="#3953a4" fill-opacity="0.4"/>
<rect x="840.68" y="1037.98" width="6.08" height="22.02" fill="#3953a4" fill-opacity="0.4"/>
<rect x="846.76" y="1015.96" width="6.08" height="44.04" fill="#3953a4" fill-opacity="0.4"/>
<rect x="852.84" y="1037.98" width="6.08" height="22.02" fill="#3953a4" fill-opacity="0.4"/>
<rect x="871.08" y="993.94" width="6.08" height="66.06" fill="#3953a4" fill-opacity="0.4"/>
<rect x="883.24" y="1015.96" width="6.08" height="44.04" fill="#3953a4" fill-opacity="0.4"/>
<rect x="895.4" y="1015.96" width="6.08" height="44.04" fill="#3953a4" fill-opacity="0.4"/>
<rect x="907.56" y="1037.98" width="6.08" height="22.02" fill="#3953a4" fill-opacity="0.4"/>
<rect x="913.64" y="1015.96" width="6.08" height="44.04" fill="#3953a4" fill-opacity="0.4"/>
<rect x="925.8" y="1037.98" width="6.08" height="22.02" fill="#3953a4" fill-opacity="0.4"/>
<rect x="931.88" y="1037.98" width="6.08" height="22.02" fill="#3953a4" fill-opacity="0.4"/>
<rect x="937.96" y="905.86" width="6.08" height="154.14" fill="#3953a4" fill-opacity="0.4"/>
<rect x="944.04" y="1037.98" width="6.08" height="22.02" fill="#3953a4" fill-opacity="0.4"/>
<rect x="950.12" y="993.94" width="6.08" height="66.06" fill="#3953a4" fill-opacity="0.4"/>
<rect x="956.2" y="1015.96" width="6.08" height="44.04" fill="#3953a4" fill-opacity="0.4"/>
<rect x="962.28" y="1015.96" width="6.08" height="44.04" fill="#3953a4" fill-opacity="0.4"/>
<rect x="968.36" y="1037.98" width="6.08" height="22.02" fill="#3953a4" fill-opacity="0.4"/>
<rect x="974.44" y="971.92" width="6.08" height="88.08" fill="#3953a4" fill-opacity="0.4"/>
<rect x="980.52" y="1015.96" width="6.08" height="44.04" fill="#3953a4" fill-opacity="0.4"/>
<rect x="986.6" y="971.92" width="6.08" height="88.08" fill="#3953a4" fill-opacity="0.4"/>
<rect x="992.68" y="993.94" width="6.08" height="66.06" fill="#3953a4" fill-opacity="0.4"/>
<rect x="998.76" y="949.9" width="6.08" height="110.1" fill="#3953a4" fill-opacity="0.4"/>
<rect x="1004.84" y="1015.96" width="6.08" height="44.04" fill="#3953a4" fill-opacity="0.4"/>
<rect x="1010.92" y="927.88" width="6.08" height="132.12" fill="#3953a4" fill-opacity="0.4"/>
<rect x="1017" y="927.88" width="6.08" height="132.12" fill="#3953a4" fill-opacity="0.4"/>
<rect x="1023.08" y="993.94" width="6.08" height="66.06" fill="#3953a4" fill-opacity="0.4"/>
<rect x="1029.16" y="751.72" width="6.08" height="308.28" fill="#3953a4" fill-opacity="0.4"/>
<rect x="1035.24" y="949.9" width="6.08" height="110.1" fill="#3953a4" fill-opacity="0.4"/>
<rect x="1041.32" y="971.92" width="6.08" height="88.08" fill="#3953a4" fill-opacity="0.4"/>
<rect x="1047.4" y="905.86" width="6.08" height="154.14" fill="#3953a4" fill-opacity="0.4"/>
<rect x="1053.48" y="883.84" width="6.08" height="176.16" fill="#3953a4" fill-opacity="0.4"/>
<rect x="1059.56" y="883.84" width="6.08" height="176.16" fill="#3953a4" fill-opacity="0.4"/>
<rect x="1065.64" y="817.78" width="6.08" height="242.22" fill="#3953a4" fill-opacity="0.4"/>
<rect x="1071.72" y="949.9" width="6.08" height="110.1" fill="#3953a4" fill-opacity="0.4"/>
<rect x="1077.8" y="751.72" width="6.08" height="308.28" fill="#3953a4" fill-opacity="0.4"/>
<rect x="1083.88" y="993.94" width="6.08" height="66.06" fill="#3953a4" fill-opacity="0.4"/>
<rect x="1089.96" y="861.82" width="6.08" height="198.18" fill="#3953a4" fill-opacity="0.4"/>
<rect x="1096.04" y="795.76" width="6.08" height="264.24" fill="#3953a4" fill-opacity="0.4"/>
<rect x="1102.12" y="927.88" width="6.08" height="132.12" fill="#3953a4" fill-opacity="0.4"/>
<rect x="1108.2" y="993.94" width="6.08" height="66.06" fill="#3953a4" fill-opacity="0.4"/>
<rect x="1114.28" y="971.92" width="6.08" height="88.08" fill="#3953a4" fill-opacity="0.4"/>
<rect x="1120.36" y="971.92" width="6.08" height="88.08" fill="#3953a4" fill-opacity="0.4"/>
<rect x="1126.44" y="1015.96" width="6.08" height="44.04" fill="#3953a4" fill-opacity="0.4"/>
<rect x="1132.52" y="1037.98" width="6.08" height="22.02" fill="#3953a4" fill-opacity="0.4"/>
<rect x="1138.6" y="1015.96" width="6.08" height="44.04" fill="#3953a4" fill-opacity="0.4"/>
<rect x="1156.84" y="1015.96" width="6.08" height="44.04" fill="#3953a4" fill-opacity="0.4"/>
<rect x="1162.92" y="1037.98" width="6.08" height="22.02" fill="#3953a4" fill-opacity="0.4"/>
<path d="M922.4 607.2V1060.2" stroke="#231f20" stroke-width="2.8" stroke-dasharray="6.4 2.7" stroke-dashoffset="5.1"/>
<rect x="735.3" y="607.2" width="453.9" height="453" fill="none" stroke="#231f20" stroke-width="1.8"/>
<path d="M729.3 660.24H735.3M729.3 760.08H735.3M729.3 859.92H735.3M729.3 959.76H735.3M729.3 1059.6H735.3" stroke="#231f20" stroke-width="1.8"/>
<path d="M755.8 1060.2V1066.2M889.91 1060.2V1066.2M1024.02 1060.2V1066.2M1158.13 1060.2V1066.2" stroke="#231f20" stroke-width="1.8"/>
<text x="612.28" y="589.4" textLength="46.63" lengthAdjust="spacingAndGlyphs">(d)</text>
<text x="662.27" y="673.14" textLength="19.6" lengthAdjust="spacingAndGlyphs">0</text>
<text x="679.92" y="673.14" textLength="8.46" lengthAdjust="spacingAndGlyphs">.</text>
<text x="689.19" y="673.14" textLength="41.59" lengthAdjust="spacingAndGlyphs">08</text>
<text x="662.27" y="772.98" textLength="19.6" lengthAdjust="spacingAndGlyphs">0</text>
<text x="679.92" y="772.98" textLength="8.46" lengthAdjust="spacingAndGlyphs">.</text>
<text x="689.19" y="772.98" textLength="41.6" lengthAdjust="spacingAndGlyphs">06</text>
<text x="662.27" y="872.82" textLength="19.6" lengthAdjust="spacingAndGlyphs">0</text>
<text x="679.92" y="872.82" textLength="8.46" lengthAdjust="spacingAndGlyphs">.</text>
<text x="689.21" y="872.82" textLength="41.02" lengthAdjust="spacingAndGlyphs">04</text>
<text x="662.27" y="972.66" textLength="19.6" lengthAdjust="spacingAndGlyphs">0</text>
<text x="679.92" y="972.66" textLength="8.46" lengthAdjust="spacingAndGlyphs">.</text>
<text x="689.18" y="972.66" textLength="41.86" lengthAdjust="spacingAndGlyphs">02</text>
<text x="662.27" y="1072.5" textLength="19.6" lengthAdjust="spacingAndGlyphs">0</text>
<text x="679.92" y="1072.5" textLength="8.46" lengthAdjust="spacingAndGlyphs">.</text>
<text x="689.2" y="1072.5" textLength="41.41" lengthAdjust="spacingAndGlyphs">00</text>
<text x="746.95" y="1099" textLength="21.29" lengthAdjust="spacingAndGlyphs">0</text>
<text x="872.28" y="1099" textLength="42.47" lengthAdjust="spacingAndGlyphs">25</text>
<text x="1007.29" y="1099" textLength="40.69" lengthAdjust="spacingAndGlyphs">50</text>
<text x="1141.32" y="1099" textLength="41.81" lengthAdjust="spacingAndGlyphs">75</text>
<text x="847.55" y="1140.4" textLength="255.57" lengthAdjust="spacingAndGlyphs">Counts/readout</text>
<text transform="translate(645.8 990.12) rotate(-90)" x="0" y="0" textLength="334.6" lengthAdjust="spacingAndGlyphs">Probability/bin-width</text>
<rect x="971" y="623" width="61.6" height="21.4" fill="#ed1c24" fill-opacity="0.4"/>
<rect x="971" y="670" width="61.6" height="21.4" fill="#3953a4" fill-opacity="0.4"/>
<path d="M971 720.3H1031.5" stroke="#231f20" stroke-width="3" stroke-dasharray="6.3 2.7"/>
<rect x="1042.4" y="620.4" width="3.2" height="28.6" fill="#231f20"/>
<path d="M1055 622V648.9 M1050.6 627.5L1055 621.3L1059.4 627.5" fill="none" stroke="#231f20" stroke-width="2"/>
<path d="M1061.5 620.9L1075 634.5L1061.5 648.1" fill="none" stroke="#231f20" stroke-width="1.2"/>
<rect x="1042.4" y="665.9" width="3.2" height="28.6" fill="#231f20"/>
<path d="M1055 665.6V692.5 M1050.6 687L1055 693.2L1059.4 687" fill="none" stroke="#231f20" stroke-width="2"/>
<path d="M1061.5 666.4L1075 680L1061.5 693.6" fill="none" stroke="#231f20" stroke-width="1.2"/>
<text x="1040.77" y="729.4" textLength="134.73" lengthAdjust="spacingAndGlyphs" style="font-size:30.5px;">Threshold</text>
<path d="M124.4 1366.3 L140.7 1338.6 L150.3 1327 L167.5 1313.6 L186.7 1300.8 L205.8 1288.7 L225 1274.3 L234.6 1269.5 L250.9 1267.1 L259.5 1263.4 L268.1 1257.1 L284.4 1255.7 L293.1 1250 L301.7 1251.3 L311.3 1247.1 L326.6 1244.6 L343 1240.4 L352 1241.4 L360 1236.4 L369 1238 L377 1236 L386 1232.4 L403 1234.4 L410 1232.4 L420 1229.2 L430 1227.4 L450 1226.6 L464 1225.6 L482 1223.4 L496 1222 L506 1222.4 L512 1223.4 L520 1224 L530 1221 L539 1219.6" fill="none" stroke="#ed1c24" stroke-width="3.6" stroke-linejoin="round"/>
<path d="M124.4 1509.66 L125.79 1505.49 L127.17 1501.43 L128.56 1497.47 L129.95 1493.62 L131.33 1489.87 L132.72 1486.21 L134.11 1482.64 L135.49 1479.15 L136.88 1475.75 L138.27 1472.43 L139.65 1469.19 L141.04 1466.01 L142.43 1462.91 L143.81 1459.88 L145.2 1456.91 L146.59 1454 L147.97 1451.16 L149.36 1448.37 L150.75 1445.63 L152.13 1442.95 L153.52 1440.32 L154.91 1437.75 L156.29 1435.21 L157.68 1432.73 L159.07 1430.29 L160.45 1427.89 L161.84 1425.54 L163.23 1423.22 L164.61 1420.95 L166 1418.71 L167.39 1416.51 L168.77 1414.34 L170.16 1412.21 L171.55 1410.12 L172.93 1408.05 L174.32 1406.02 L175.71 1404.01 L177.09 1402.04 L178.48 1400.09 L179.86 1398.18 L181.25 1396.29 L182.64 1394.42 L184.02 1392.58 L185.41 1390.77 L186.8 1388.98 L188.18 1387.22 L189.57 1385.48 L190.96 1383.76 L192.34 1382.07 L193.73 1380.39 L195.12 1378.74 L196.5 1377.11 L197.89 1375.5 L199.28 1373.91 L200.66 1372.33 L202.05 1370.78 L203.44 1369.25 L204.82 1367.73 L206.21 1366.23 L207.6 1364.75 L208.98 1363.29 L210.37 1361.85 L211.76 1360.42 L213.14 1359 L214.53 1357.61 L215.92 1356.22 L217.3 1354.86 L218.69 1353.51 L220.08 1352.17 L221.46 1350.85 L222.85 1349.55 L224.24 1348.25 L225.62 1346.98 L227.01 1345.71 L228.4 1344.46 L229.78 1343.22 L231.17 1342 L232.56 1340.79 L233.94 1339.59 L235.33 1338.41 L236.72 1337.23 L238.1 1336.07 L239.49 1334.92 L240.88 1333.79 L242.26 1332.66 L243.65 1331.55 L245.04 1330.45 L246.42 1329.36 L247.81 1328.28 L249.2 1327.21 L250.58 1326.15 L251.97 1325.11 L253.36 1324.07 L254.74 1323.05 L256.13 1322.03 L257.52 1321.03 L258.9 1320.03 L260.29 1319.05 L261.68 1318.08 L263.06 1317.11 L264.45 1316.16 L265.84 1315.21 L267.22 1314.28 L268.61 1313.35 L270 1312.43 L271.38 1311.52 L272.77 1310.62 L274.16 1309.73 L275.54 1308.85 L276.93 1307.98 L278.32 1307.12 L279.7 1306.26 L281.09 1305.41 L282.47 1304.57 L283.86 1303.74 L285.25 1302.92 L286.63 1302.11 L288.02 1301.3 L289.41 1300.5 L290.79 1299.71 L292.18 1298.93 L293.57 1298.16 L294.95 1297.39 L296.34 1296.63 L297.73 1295.88 L299.11 1295.13 L300.5 1294.39 L301.89 1293.66 L303.27 1292.94 L304.66 1292.23 L306.05 1291.52 L307.43 1290.81 L308.82 1290.12 L310.21 1289.43 L311.59 1288.75 L312.98 1288.07 L314.37 1287.4 L315.75 1286.74 L317.14 1286.09 L318.53 1285.44 L319.91 1284.79 L321.3 1284.16 L322.69 1283.53 L324.07 1282.9 L325.46 1282.28 L326.85 1281.67 L328.23 1281.06 L329.62 1280.46 L331.01 1279.87 L332.39 1279.28 L333.78 1278.7 L335.17 1278.12 L336.55 1277.55 L337.94 1276.98 L339.33 1276.42 L340.71 1275.87 L342.1 1275.32 L343.49 1274.77 L344.87 1274.23 L346.26 1273.7 L347.65 1273.17 L349.03 1272.64 L350.42 1272.13 L351.81 1271.61 L353.19 1271.1 L354.58 1270.6 L355.97 1270.1 L357.35 1269.61 L358.74 1269.12 L360.13 1268.63 L361.51 1268.15 L362.9 1267.68 L364.29 1267.21 L365.67 1266.74 L367.06 1266.28 L368.45 1265.82 L369.83 1265.37 L371.22 1264.92 L372.61 1264.48 L373.99 1264.04 L375.38 1263.6 L376.77 1263.17 L378.15 1262.74 L379.54 1262.32 L380.93 1261.9 L382.31 1261.49 L383.7 1261.08 L385.08 1260.67 L386.47 1260.27 L387.86 1259.87 L389.24 1259.47 L390.63 1259.08 L392.02 1258.7 L393.4 1258.31 L394.79 1257.93 L396.18 1257.56 L397.56 1257.18 L398.95 1256.81 L400.34 1256.45 L401.72 1256.09 L403.11 1255.73 L404.5 1255.37 L405.88 1255.02 L407.27 1254.67 L408.66 1254.33 L410.04 1253.99 L411.43 1253.65 L412.82 1253.32 L414.2 1252.98 L415.59 1252.66 L416.98 1252.33 L418.36 1252.01 L419.75 1251.69 L421.14 1251.37 L422.52 1251.06 L423.91 1250.75 L425.3 1250.44 L426.68 1250.14 L428.07 1249.84 L429.46 1249.54 L430.84 1249.25 L432.23 1248.96 L433.62 1248.67 L435 1248.38 L436.39 1248.1 L437.78 1247.81 L439.16 1247.54 L440.55 1247.26 L441.94 1246.99 L443.32 1246.72 L444.71 1246.45 L446.1 1246.18 L447.48 1245.92 L448.87 1245.66 L450.26 1245.4 L451.64 1245.15 L453.03 1244.9 L454.42 1244.65 L455.8 1244.4 L457.19 1244.15 L458.58 1243.91 L459.96 1243.67 L461.35 1243.43 L462.74 1243.2 L464.12 1242.96 L465.51 1242.73 L466.9 1242.5 L468.28 1242.28 L469.67 1242.05 L471.06 1241.83 L472.44 1241.61 L473.83 1241.39 L475.22 1241.17 L476.6 1240.96 L477.99 1240.75 L479.38 1240.54 L480.76 1240.33 L482.15 1240.12 L483.54 1239.92 L484.92 1239.72 L486.31 1239.52 L487.69 1239.32 L489.08 1239.12 L490.47 1238.93 L491.85 1238.74 L493.24 1238.55 L494.63 1238.36 L496.01 1238.17 L497.4 1237.99 L498.79 1237.8 L500.17 1237.62 L501.56 1237.44 L502.95 1237.26 L504.33 1237.09 L505.72 1236.91 L507.11 1236.74 L508.49 1236.57 L509.88 1236.4 L511.27 1236.23 L512.65 1236.07 L514.04 1235.9 L515.43 1235.74 L516.81 1235.58 L518.2 1235.42 L519.59 1235.26 L520.97 1235.1 L522.36 1234.95 L523.75 1234.79 L525.13 1234.64 L526.52 1234.49 L527.91 1234.34 L529.29 1234.19 L530.68 1234.05 L532.07 1233.9 L533.45 1233.76 L534.84 1233.61 L536.23 1233.47 L537.61 1233.33 L539 1233.2" fill="none" stroke="#3953a4" stroke-width="3.6" stroke-linejoin="round"/>
<path d="M124.4 1633.53 L125.79 1628.11 L127.17 1622.83 L128.56 1617.66 L129.95 1612.62 L131.33 1607.69 L132.72 1602.87 L134.11 1598.15 L135.49 1593.53 L136.88 1589.02 L138.27 1584.59 L139.65 1580.26 L141.04 1576.01 L142.43 1571.84 L143.81 1567.76 L145.2 1563.75 L146.59 1559.82 L147.97 1555.96 L149.36 1552.17 L150.75 1548.45 L152.13 1544.8 L153.52 1541.2 L154.91 1537.67 L156.29 1534.2 L157.68 1530.79 L159.07 1527.43 L160.45 1524.12 L161.84 1520.87 L163.23 1517.67 L164.61 1514.51 L166 1511.41 L167.39 1508.35 L168.77 1505.34 L170.16 1502.37 L171.55 1499.44 L172.93 1496.55 L174.32 1493.71 L175.71 1490.91 L177.09 1488.14 L178.48 1485.41 L179.86 1482.72 L181.25 1480.06 L182.64 1477.44 L184.02 1474.85 L185.41 1472.3 L186.8 1469.78 L188.18 1467.29 L189.57 1464.83 L190.96 1462.41 L192.34 1460.01 L193.73 1457.64 L195.12 1455.3 L196.5 1452.99 L197.89 1450.71 L199.28 1448.45 L200.66 1446.22 L202.05 1444.02 L203.44 1441.84 L204.82 1439.69 L206.21 1437.56 L207.6 1435.46 L208.98 1433.38 L210.37 1431.32 L211.76 1429.29 L213.14 1427.28 L214.53 1425.29 L215.92 1423.32 L217.3 1421.38 L218.69 1419.45 L220.08 1417.55 L221.46 1415.67 L222.85 1413.81 L224.24 1411.97 L225.62 1410.14 L227.01 1408.34 L228.4 1406.56 L229.78 1404.79 L231.17 1403.05 L232.56 1401.32 L233.94 1399.61 L235.33 1397.92 L236.72 1396.25 L238.1 1394.59 L239.49 1392.95 L240.88 1391.33 L242.26 1389.73 L243.65 1388.14 L245.04 1386.57 L246.42 1385.01 L247.81 1383.47 L249.2 1381.95 L250.58 1380.44 L251.97 1378.95 L253.36 1377.47 L254.74 1376.01 L256.13 1374.56 L257.52 1373.13 L258.9 1371.71 L260.29 1370.3 L261.68 1368.91 L263.06 1367.54 L264.45 1366.18 L265.84 1364.83 L267.22 1363.49 L268.61 1362.17 L270 1360.86 L271.38 1359.57 L272.77 1358.28 L274.16 1357.02 L275.54 1355.76 L276.93 1354.51 L278.32 1353.28 L279.7 1352.06 L281.09 1350.86 L282.47 1349.66 L283.86 1348.48 L285.25 1347.31 L286.63 1346.15 L288.02 1345 L289.41 1343.86 L290.79 1342.73 L292.18 1341.62 L293.57 1340.52 L294.95 1339.42 L296.34 1338.34 L297.73 1337.27 L299.11 1336.21 L300.5 1335.16 L301.89 1334.12 L303.27 1333.09 L304.66 1332.07 L306.05 1331.06 L307.43 1330.06 L308.82 1329.07 L310.21 1328.09 L311.59 1327.12 L312.98 1326.16 L314.37 1325.21 L315.75 1324.27 L317.14 1323.34 L318.53 1322.41 L319.91 1321.5 L321.3 1320.59 L322.69 1319.7 L324.07 1318.81 L325.46 1317.93 L326.85 1317.06 L328.23 1316.2 L329.62 1315.35 L331.01 1314.5 L332.39 1313.67 L333.78 1312.84 L335.17 1312.02 L336.55 1311.21 L337.94 1310.4 L339.33 1309.61 L340.71 1308.82 L342.1 1308.04 L343.49 1307.26 L344.87 1306.5 L346.26 1305.74 L347.65 1304.99 L349.03 1304.25 L350.42 1303.51 L351.81 1302.78 L353.19 1302.06 L354.58 1301.35 L355.97 1300.64 L357.35 1299.94 L358.74 1299.25 L360.13 1298.56 L361.51 1297.88 L362.9 1297.21 L364.29 1296.54 L365.67 1295.88 L367.06 1295.23 L368.45 1294.58 L369.83 1293.94 L371.22 1293.3 L372.61 1292.68 L373.99 1292.05 L375.38 1291.44 L376.77 1290.83 L378.15 1290.22 L379.54 1289.63 L380.93 1289.03 L382.31 1288.45 L383.7 1287.87 L385.08 1287.29 L386.47 1286.72 L387.86 1286.16 L389.24 1285.6 L390.63 1285.05 L392.02 1284.5 L393.4 1283.96 L394.79 1283.42 L396.18 1282.89 L397.56 1282.36 L398.95 1281.84 L400.34 1281.33 L401.72 1280.81 L403.11 1280.31 L404.5 1279.81 L405.88 1279.31 L407.27 1278.82 L408.66 1278.33 L410.04 1277.85 L411.43 1277.37 L412.82 1276.9 L414.2 1276.43 L415.59 1275.97 L416.98 1275.51 L418.36 1275.06 L419.75 1274.61 L421.14 1274.16 L422.52 1273.72 L423.91 1273.29 L425.3 1272.85 L426.68 1272.43 L428.07 1272 L429.46 1271.58 L430.84 1271.17 L432.23 1270.76 L433.62 1270.35 L435 1269.94 L436.39 1269.55 L437.78 1269.15 L439.16 1268.76 L440.55 1268.37 L441.94 1267.99 L443.32 1267.61 L444.71 1267.23 L446.1 1266.86 L447.48 1266.49 L448.87 1266.12 L450.26 1265.76 L451.64 1265.4 L453.03 1265.05 L454.42 1264.69 L455.8 1264.35 L457.19 1264 L458.58 1263.66 L459.96 1263.32 L461.35 1262.99 L462.74 1262.66 L464.12 1262.33 L465.51 1262 L466.9 1261.68 L468.28 1261.36 L469.67 1261.05 L471.06 1260.73 L472.44 1260.42 L473.83 1260.12 L475.22 1259.81 L476.6 1259.51 L477.99 1259.22 L479.38 1258.92 L480.76 1258.63 L482.15 1258.34 L483.54 1258.06 L484.92 1257.77 L486.31 1257.49 L487.69 1257.22 L489.08 1256.94 L490.47 1256.67 L491.85 1256.4 L493.24 1256.13 L494.63 1255.87 L496.01 1255.61 L497.4 1255.35 L498.79 1255.09 L500.17 1254.84 L501.56 1254.58 L502.95 1254.34 L504.33 1254.09 L505.72 1253.84 L507.11 1253.6 L508.49 1253.36 L509.88 1253.13 L511.27 1252.89 L512.65 1252.66 L514.04 1252.43 L515.43 1252.2 L516.81 1251.97 L518.2 1251.75 L519.59 1251.53 L520.97 1251.31 L522.36 1251.09 L523.75 1250.88 L525.13 1250.67 L526.52 1250.45 L527.91 1250.25 L529.29 1250.04 L530.68 1249.83 L532.07 1249.63 L533.45 1249.43 L534.84 1249.23 L536.23 1249.04 L537.61 1248.84 L539 1248.65" fill="none" stroke="#0c7d3e" stroke-width="3.6" stroke-linejoin="round"/>
<rect x="104.6" y="1199" width="454.8" height="453.8" fill="none" stroke="#231f20" stroke-width="1.8"/>
<path d="M98.6 1206H104.6M98.6 1325.2H104.6M98.6 1444.4H104.6M98.6 1563.6H104.6" stroke="#231f20" stroke-width="1.8"/>
<path d="M137.9 1652.8V1658.8M356.7 1652.8V1658.8" stroke="#231f20" stroke-width="1.8"/>
<text x="-1.35" y="1159.8" textLength="45.41" lengthAdjust="spacingAndGlyphs">(e)</text>
<path transform="translate(47.15 1220.3) scale(0.019944 -0.018410)" d="M763 0H583V1147Q518 1085 412.5 1023Q307 961 223 930V1104Q374 1175 487 1276Q600 1377 647 1472H763Z" fill="#231f20"/>
<text x="66.56" y="1220.3" textLength="8.17" lengthAdjust="spacingAndGlyphs">.</text>
<text x="75.77" y="1220.3" textLength="19.66" lengthAdjust="spacingAndGlyphs">0</text>
<text x="48.17" y="1339.2" textLength="19.6" lengthAdjust="spacingAndGlyphs">0</text>
<text x="65.82" y="1339.2" textLength="8.46" lengthAdjust="spacingAndGlyphs">.</text>
<text x="74.77" y="1339.2" textLength="21.07" lengthAdjust="spacingAndGlyphs">9</text>
<text x="48.17" y="1457.9" textLength="19.6" lengthAdjust="spacingAndGlyphs">0</text>
<text x="65.82" y="1457.9" textLength="8.46" lengthAdjust="spacingAndGlyphs">.</text>
<text x="74.93" y="1457.9" textLength="20.74" lengthAdjust="spacingAndGlyphs">8</text>
<text x="48.17" y="1576.6" textLength="19.6" lengthAdjust="spacingAndGlyphs">0</text>
<text x="65.82" y="1576.6" textLength="8.46" lengthAdjust="spacingAndGlyphs">.</text>
<text x="74.58" y="1576.6" textLength="21.41" lengthAdjust="spacingAndGlyphs">7</text>
<text x="102.87" y="1691.7" textLength="83.24" lengthAdjust="spacingAndGlyphs">2000</text>
<text x="321.79" y="1691.7" textLength="83.01" lengthAdjust="spacingAndGlyphs">4000</text>
<text x="218.84" y="1733.4" textLength="26.53" lengthAdjust="spacingAndGlyphs">Ω</text>
<text x="243.39" y="1738.5" textLength="35.25" lengthAdjust="spacingAndGlyphs" style="font-size:25px;">opt</text>
<text x="279.35" y="1733.4" textLength="8.3" lengthAdjust="spacingAndGlyphs">/</text>
<text x="295.87" y="1733.4" textLength="20.75" lengthAdjust="spacingAndGlyphs">2</text>
<path d="M315.6 1713.6h22.9v2.8h-22.9zM319.95 1716.2h3.5V1733.6h-3.5zM331.06 1716.2h3.5V1733.6h-3.5z" fill="#231f20"/>
<text x="345.9" y="1733.4" textLength="102.99" lengthAdjust="spacingAndGlyphs">(MHz)</text>
<text transform="translate(33.9 1439.69) rotate(-90)" x="0" y="0" textLength="21.87" lengthAdjust="spacingAndGlyphs">F</text>
<path d="M202 1499.8 L279.5 1499.8" fill="none" stroke="#ed1c24" stroke-width="3.6" stroke-linejoin="round"/>
<text x="307.63" y="1512.8" textLength="17.03" lengthAdjust="spacingAndGlyphs">γ</text>
<text x="325.92" y="1518.6" textLength="26.48" lengthAdjust="spacingAndGlyphs" style="font-size:24px;">ph</text>
<text x="355.75" y="1512.8" textLength="9.5" lengthAdjust="spacingAndGlyphs">/</text>
<text x="372.6" y="1512.8" textLength="20.51" lengthAdjust="spacingAndGlyphs">2</text>
<path d="M392.5 1493h23.1v2.8h-23.1zM396.89 1495.6h3.5V1513h-3.5zM408.09 1495.6h3.5V1513h-3.5z" fill="#231f20"/>
<text x="423.88" y="1512.8" textLength="19.95" lengthAdjust="spacingAndGlyphs">=</text>
<text x="454.62" y="1512.8" textLength="20.27" lengthAdjust="spacingAndGlyphs">2</text>
<text x="478.18" y="1512.8" textLength="63.09" lengthAdjust="spacingAndGlyphs">kHz</text>
<path d="M202 1556.1 L279.5 1556.1" fill="none" stroke="#3953a4" stroke-width="3.6" stroke-linejoin="round"/>
<text x="307.63" y="1569.1" textLength="17.03" lengthAdjust="spacingAndGlyphs">γ</text>
<text x="325.92" y="1574.9" textLength="26.48" lengthAdjust="spacingAndGlyphs" style="font-size:24px;">ph</text>
<text x="355.75" y="1569.1" textLength="9.5" lengthAdjust="spacingAndGlyphs">/</text>
<text x="372.6" y="1569.1" textLength="20.51" lengthAdjust="spacingAndGlyphs">2</text>
<path d="M392.5 1549.3h23.1v2.8h-23.1zM396.89 1551.9h3.5V1569.3h-3.5zM408.09 1551.9h3.5V1569.3h-3.5z" fill="#231f20"/>
<text x="423.88" y="1569.1" textLength="19.95" lengthAdjust="spacingAndGlyphs">=</text>
<text x="455.69" y="1569.1" textLength="18.32" lengthAdjust="spacingAndGlyphs">4</text>
<text x="478.18" y="1569.1" textLength="63.09" lengthAdjust="spacingAndGlyphs">kHz</text>
<path d="M202 1612.4 L279.5 1612.4" fill="none" stroke="#0c7d3e" stroke-width="3.6" stroke-linejoin="round"/>
<text x="307.63" y="1625.4" textLength="17.03" lengthAdjust="spacingAndGlyphs">γ</text>
<text x="325.92" y="1631.2" textLength="26.48" lengthAdjust="spacingAndGlyphs" style="font-size:24px;">ph</text>
<text x="355.75" y="1625.4" textLength="9.5" lengthAdjust="spacingAndGlyphs">/</text>
<text x="372.6" y="1625.4" textLength="20.51" lengthAdjust="spacingAndGlyphs">2</text>
<path d="M392.5 1605.6h23.1v2.8h-23.1zM396.89 1608.2h3.5V1625.6h-3.5zM408.09 1608.2h3.5V1625.6h-3.5z" fill="#231f20"/>
<text x="423.88" y="1625.4" textLength="19.95" lengthAdjust="spacingAndGlyphs">=</text>
<text x="454.62" y="1625.4" textLength="20.01" lengthAdjust="spacingAndGlyphs">6</text>
<text x="478.18" y="1625.4" textLength="63.09" lengthAdjust="spacingAndGlyphs">kHz</text>
<clipPath id="cf"><rect x="729.3" y="1201.6" width="454.7" height="454.4"/></clipPath>
<path d="M729.9 1635.28 L730.13 1635.28 L730.35 1635.28 L730.58 1635.28 L730.81 1635.28 L731.03 1635.28 L731.26 1635.28 L731.49 1635.28 L731.72 1635.27 L731.94 1635.27 L732.17 1635.27 L732.4 1635.27 L732.62 1635.27 L732.85 1635.27 L733.08 1635.27 L733.3 1635.27 L733.53 1635.27 L733.76 1635.27 L733.98 1635.27 L734.21 1635.27 L734.44 1635.27 L734.66 1635.27 L734.89 1635.27 L735.12 1635.27 L735.34 1635.27 L735.57 1635.27 L735.8 1635.27 L736.03 1635.27 L736.25 1635.27 L736.48 1635.27 L736.71 1635.27 L736.93 1635.27 L737.16 1635.27 L737.39 1635.27 L737.61 1635.26 L737.84 1635.26 L738.07 1635.26 L738.29 1635.26 L738.52 1635.26 L738.75 1635.26 L738.98 1635.26 L739.2 1635.26 L739.43 1635.26 L739.66 1635.26 L739.88 1635.26 L740.11 1635.26 L740.34 1635.26 L740.56 1635.26 L740.79 1635.26 L741.02 1635.26 L741.24 1635.26 L741.47 1635.26 L741.7 1635.26 L741.92 1635.26 L742.15 1635.26 L742.38 1635.26 L742.61 1635.26 L742.83 1635.26 L743.06 1635.25 L743.29 1635.25 L743.51 1635.25 L743.74 1635.25 L743.97 1635.25 L744.19 1635.25 L744.42 1635.25 L744.65 1635.25 L744.87 1635.25 L745.1 1635.25 L745.33 1635.25 L745.55 1635.25 L745.78 1635.25 L746.01 1635.25 L746.24 1635.25 L746.46 1635.25 L746.69 1635.25 L746.92 1635.25 L747.14 1635.25 L747.37 1635.25 L747.6 1635.25 L747.82 1635.25 L748.05 1635.25 L748.28 1635.24 L748.5 1635.24 L748.73 1635.24 L748.96 1635.24 L749.18 1635.24 L749.41 1635.24 L749.64 1635.24 L749.87 1635.24 L750.09 1635.24 L750.32 1635.24 L750.55 1635.24 L750.77 1635.24 L751 1635.24 L751.23 1635.24 L751.45 1635.24 L751.68 1635.24 L751.91 1635.24 L752.13 1635.24 L752.36 1635.24 L752.59 1635.24 L752.81 1635.24 L753.04 1635.23 L753.27 1635.23 L753.5 1635.23 L753.72 1635.23 L753.95 1635.23 L754.18 1635.23 L754.4 1635.23 L754.63 1635.23 L754.86 1635.23 L755.08 1635.23 L755.31 1635.23 L755.54 1635.23 L755.76 1635.23 L755.99 1635.23 L756.22 1635.23 L756.44 1635.23 L756.67 1635.23 L756.9 1635.23 L757.12 1635.23 L757.35 1635.23 L757.58 1635.22 L757.81 1635.22 L758.03 1635.22 L758.26 1635.22 L758.49 1635.22 L758.71 1635.22 L758.94 1635.22 L759.17 1635.22 L759.39 1635.22 L759.62 1635.22 L759.85 1635.22 L760.07 1635.22 L760.3 1635.22 L760.53 1635.22 L760.75 1635.22 L760.98 1635.22 L761.21 1635.22 L761.44 1635.22 L761.66 1635.22 L761.89 1635.21 L762.12 1635.21 L762.34 1635.21 L762.57 1635.21 L762.8 1635.21 L763.02 1635.21 L763.25 1635.21 L763.48 1635.21 L763.7 1635.21 L763.93 1635.21 L764.16 1635.21 L764.38 1635.21 L764.61 1635.21 L764.84 1635.21 L765.07 1635.21 L765.29 1635.21 L765.52 1635.21 L765.75 1635.21 L765.97 1635.21 L766.2 1635.2 L766.43 1635.2 L766.65 1635.2 L766.88 1635.2 L767.11 1635.2 L767.33 1635.2 L767.56 1635.2 L767.79 1635.2 L768.01 1635.2 L768.24 1635.2 L768.47 1635.2 L768.7 1635.2 L768.92 1635.2 L769.15 1635.2 L769.38 1635.2 L769.6 1635.2 L769.83 1635.2 L770.06 1635.19 L770.28 1635.19 L770.51 1635.19 L770.74 1635.19 L770.96 1635.19 L771.19 1635.19 L771.42 1635.19 L771.64 1635.19 L771.87 1635.19 L772.1 1635.19 L772.33 1635.19 L772.55 1635.19 L772.78 1635.19 L773.01 1635.19 L773.23 1635.19 L773.46 1635.19 L773.69 1635.18 L773.91 1635.18 L774.14 1635.18 L774.37 1635.18 L774.59 1635.18 L774.82 1635.18 L775.05 1635.18 L775.27 1635.18 L775.5 1635.18 L775.73 1635.18 L775.96 1635.18 L776.18 1635.18 L776.41 1635.18 L776.64 1635.18 L776.86 1635.18 L777.09 1635.18 L777.32 1635.17 L777.54 1635.17 L777.77 1635.17 L778 1635.17 L778.22 1635.17 L778.45 1635.17 L778.68 1635.17 L778.9 1635.17 L779.13 1635.17 L779.36 1635.17 L779.59 1635.17 L779.81 1635.17 L780.04 1635.17 L780.27 1635.17 L780.49 1635.17 L780.72 1635.16 L780.95 1635.16 L781.17 1635.16 L781.4 1635.16 L781.63 1635.16 L781.85 1635.16 L782.08 1635.16 L782.31 1635.16 L782.53 1635.16 L782.76 1635.16 L782.99 1635.16 L783.22 1635.16 L783.44 1635.16 L783.67 1635.16 L783.9 1635.15 L784.12 1635.15 L784.35 1635.15 L784.58 1635.15 L784.8 1635.15 L785.03 1635.15 L785.26 1635.15 L785.48 1635.15 L785.71 1635.15 L785.94 1635.15 L786.16 1635.15 L786.39 1635.15 L786.62 1635.15 L786.85 1635.15 L787.07 1635.14 L787.3 1635.14 L787.53 1635.14 L787.75 1635.14 L787.98 1635.14 L788.21 1635.14 L788.43 1635.14 L788.66 1635.14 L788.89 1635.14 L789.11 1635.14 L789.34 1635.14 L789.57 1635.14 L789.79 1635.14 L790.02 1635.13 L790.25 1635.13 L790.48 1635.13 L790.7 1635.13 L790.93 1635.13 L791.16 1635.13 L791.38 1635.13 L791.61 1635.13 L791.84 1635.13 L792.06 1635.13 L792.29 1635.13 L792.52 1635.13 L792.74 1635.12 L792.97 1635.12 L793.2 1635.12 L793.42 1635.12 L793.65 1635.12 L793.88 1635.12 L794.11 1635.12 L794.33 1635.12 L794.56 1635.12 L794.79 1635.12 L795.01 1635.12 L795.24 1635.12 L795.47 1635.11 L795.69 1635.11 L795.92 1635.11 L796.15 1635.11 L796.37 1635.11 L796.6 1635.11 L796.83 1635.11 L797.05 1635.11 L797.28 1635.11 L797.51 1635.11 L797.74 1635.11 L797.96 1635.11 L798.19 1635.1 L798.42 1635.1 L798.64 1635.1 L798.87 1635.1 L799.1 1635.1 L799.32 1635.1 L799.55 1635.1 L799.78 1635.1 L800 1635.1 L800.23 1635.1 L800.46 1635.1 L800.68 1635.09 L800.91 1635.09 L801.14 1635.09 L801.37 1635.09 L801.59 1635.09 L801.82 1635.09 L802.05 1635.09 L802.27 1635.09 L802.5 1635.09 L802.73 1635.09 L802.95 1635.09 L803.18 1635.08 L803.41 1635.08 L803.63 1635.08 L803.86 1635.08 L804.09 1635.08 L804.31 1635.08 L804.54 1635.08 L804.77 1635.08 L805 1635.08 L805.22 1635.08 L805.45 1635.07 L805.68 1635.07 L805.9 1635.07 L806.13 1635.07 L806.36 1635.07 L806.58 1635.07 L806.81 1635.07 L807.04 1635.07 L807.26 1635.07 L807.49 1635.07 L807.72 1635.06 L807.94 1635.06 L808.17 1635.06 L808.4 1635.06 L808.63 1635.06 L808.85 1635.06 L809.08 1635.06 L809.31 1635.06 L809.53 1635.06 L809.76 1635.06 L809.99 1635.05 L810.21 1635.05 L810.44 1635.05 L810.67 1635.05 L810.89 1635.05 L811.12 1635.05 L811.35 1635.05 L811.57 1635.05 L811.8 1635.05 L812.03 1635.04 L812.26 1635.04 L812.48 1635.04 L812.71 1635.04 L812.94 1635.04 L813.16 1635.04 L813.39 1635.04 L813.62 1635.04 L813.84 1635.04 L814.07 1635.04 L814.3 1635.03 L814.52 1635.03 L814.75 1635.03 L814.98 1635.03 L815.2 1635.03 L815.43 1635.03 L815.66 1635.03 L815.89 1635.03 L816.11 1635.02 L816.34 1635.02 L816.57 1635.02 L816.79 1635.02 L817.02 1635.02 L817.25 1635.02 L817.47 1635.02 L817.7 1635.02 L817.93 1635.02 L818.15 1635.01 L818.38 1635.01 L818.61 1635.01 L818.83 1635.01 L819.06 1635.01 L819.29 1635.01 L819.52 1635.01 L819.74 1635.01 L819.97 1635 L820.2 1635 L820.42 1635 L820.65 1635 L820.88 1635 L821.1 1635 L821.33 1635 L821.56 1635 L821.78 1634.99 L822.01 1634.99 L822.24 1634.99 L822.47 1634.99 L822.69 1634.99 L822.92 1634.99 L823.15 1634.99 L823.37 1634.99 L823.6 1634.98 L823.83 1634.98 L824.05 1634.98 L824.28 1634.98 L824.51 1634.98 L824.73 1634.98 L824.96 1634.98 L825.19 1634.97 L825.41 1634.97 L825.64 1634.97 L825.87 1634.97 L826.1 1634.97 L826.32 1634.97 L826.55 1634.97 L826.78 1634.97 L827 1634.96 L827.23 1634.96 L827.46 1634.96 L827.68 1634.96 L827.91 1634.96 L828.14 1634.96 L828.36 1634.96 L828.59 1634.95 L828.82 1634.95 L829.04 1634.95 L829.27 1634.95 L829.5 1634.95 L829.73 1634.95 L829.95 1634.95 L830.18 1634.94 L830.41 1634.94 L830.63 1634.94 L830.86 1634.94 L831.09 1634.94 L831.31 1634.94 L831.54 1634.94 L831.77 1634.93 L831.99 1634.93 L832.22 1634.93 L832.45 1634.93 L832.67 1634.93 L832.9 1634.93 L833.13 1634.92 L833.36 1634.92 L833.58 1634.92 L833.81 1634.92 L834.04 1634.92 L834.26 1634.92 L834.49 1634.92 L834.72 1634.91 L834.94 1634.91 L835.17 1634.91 L835.4 1634.91 L835.62 1634.91 L835.85 1634.91 L836.08 1634.9 L836.3 1634.9 L836.53 1634.9 L836.76 1634.9 L836.99 1634.9 L837.21 1634.9 L837.44 1634.89 L837.67 1634.89 L837.89 1634.89 L838.12 1634.89 L838.35 1634.89 L838.57 1634.89 L838.8 1634.88 L839.03 1634.88 L839.25 1634.88 L839.48 1634.88 L839.71 1634.88 L839.93 1634.88 L840.16 1634.87 L840.39 1634.87 L840.62 1634.87 L840.84 1634.87 L841.07 1634.87 L841.3 1634.86 L841.52 1634.86 L841.75 1634.86 L841.98 1634.86 L842.2 1634.86 L842.43 1634.86 L842.66 1634.85 L842.88 1634.85 L843.11 1634.85 L843.34 1634.85 L843.56 1634.85 L843.79 1634.84 L844.02 1634.84 L844.25 1634.84 L844.47 1634.84 L844.7 1634.84 L844.93 1634.83 L845.15 1634.83 L845.38 1634.83 L845.61 1634.83 L845.83 1634.83 L846.06 1634.83 L846.29 1634.82 L846.51 1634.82 L846.74 1634.82 L846.97 1634.82 L847.19 1634.82 L847.42 1634.81 L847.65 1634.81 L847.88 1634.81 L848.1 1634.81 L848.33 1634.81 L848.56 1634.8 L848.78 1634.8 L849.01 1634.8 L849.24 1634.8 L849.46 1634.79 L849.69 1634.79 L849.92 1634.79 L850.14 1634.79 L850.37 1634.79 L850.6 1634.78 L850.82 1634.78 L851.05 1634.78 L851.28 1634.78 L851.5 1634.78 L851.73 1634.77 L851.96 1634.77 L852.19 1634.77 L852.41 1634.77 L852.64 1634.76 L852.87 1634.76 L853.09 1634.76 L853.32 1634.76 L853.55 1634.76 L853.77 1634.75 L854 1634.75 L854.23 1634.75 L854.45 1634.75 L854.68 1634.74 L854.91 1634.74 L855.13 1634.74 L855.36 1634.74 L855.59 1634.73 L855.82 1634.73 L856.04 1634.73 L856.27 1634.73 L856.5 1634.73 L856.72 1634.72 L856.95 1634.72 L857.18 1634.72 L857.4 1634.72 L857.63 1634.71 L857.86 1634.71 L858.08 1634.71 L858.31 1634.71 L858.54 1634.7 L858.76 1634.7 L858.99 1634.7 L859.22 1634.7 L859.45 1634.69 L859.67 1634.69 L859.9 1634.69 L860.13 1634.69 L860.35 1634.68 L860.58 1634.68 L860.81 1634.68 L861.03 1634.67 L861.26 1634.67 L861.49 1634.67 L861.71 1634.67 L861.94 1634.66 L862.17 1634.66 L862.39 1634.66 L862.62 1634.66 L862.85 1634.65 L863.08 1634.65 L863.3 1634.65 L863.53 1634.64 L863.76 1634.64 L863.98 1634.64 L864.21 1634.64 L864.44 1634.63 L864.66 1634.63 L864.89 1634.63 L865.12 1634.62 L865.34 1634.62 L865.57 1634.62 L865.8 1634.62 L866.02 1634.61 L866.25 1634.61 L866.48 1634.61 L866.71 1634.6 L866.93 1634.6 L867.16 1634.6 L867.39 1634.6 L867.61 1634.59 L867.84 1634.59 L868.07 1634.59 L868.29 1634.58 L868.52 1634.58 L868.75 1634.58 L868.97 1634.57 L869.2 1634.57 L869.43 1634.57 L869.65 1634.56 L869.88 1634.56 L870.11 1634.56 L870.34 1634.55 L870.56 1634.55 L870.79 1634.55 L871.02 1634.54 L871.24 1634.54 L871.47 1634.54 L871.7 1634.53 L871.92 1634.53 L872.15 1634.53 L872.38 1634.52 L872.6 1634.52 L872.83 1634.52 L873.06 1634.51 L873.28 1634.51 L873.51 1634.51 L873.74 1634.5 L873.97 1634.5 L874.19 1634.5 L874.42 1634.49 L874.65 1634.49 L874.87 1634.49 L875.1 1634.48 L875.33 1634.48 L875.55 1634.48 L875.78 1634.47 L876.01 1634.47 L876.23 1634.46 L876.46 1634.46 L876.69 1634.46 L876.91 1634.45 L877.14 1634.45 L877.37 1634.45 L877.6 1634.44 L877.82 1634.44 L878.05 1634.43 L878.28 1634.43 L878.5 1634.43 L878.73 1634.42 L878.96 1634.42 L879.18 1634.41 L879.41 1634.41 L879.64 1634.41 L879.86 1634.4 L880.09 1634.4 L880.32 1634.39 L880.54 1634.39 L880.77 1634.39 L881 1634.38 L881.23 1634.38 L881.45 1634.37 L881.68 1634.37 L881.91 1634.36 L882.13 1634.36 L882.36 1634.36 L882.59 1634.35 L882.81 1634.35 L883.04 1634.34 L883.27 1634.34 L883.49 1634.33 L883.72 1634.33 L883.95 1634.32 L884.17 1634.32 L884.4 1634.32 L884.63 1634.31 L884.86 1634.31 L885.08 1634.3 L885.31 1634.3 L885.54 1634.29 L885.76 1634.29 L885.99 1634.28 L886.22 1634.28 L886.44 1634.27 L886.67 1634.27 L886.9 1634.26 L887.12 1634.26 L887.35 1634.25 L887.58 1634.25 L887.8 1634.24 L888.03 1634.24 L888.26 1634.23 L888.49 1634.23 L888.71 1634.22 L888.94 1634.22 L889.17 1634.21 L889.39 1634.21 L889.62 1634.2 L889.85 1634.2 L890.07 1634.19 L890.3 1634.19 L890.53 1634.18 L890.75 1634.18 L890.98 1634.17 L891.21 1634.17 L891.43 1634.16 L891.66 1634.16 L891.89 1634.15 L892.12 1634.14 L892.34 1634.14 L892.57 1634.13 L892.8 1634.13 L893.02 1634.12 L893.25 1634.12 L893.48 1634.11 L893.7 1634.1 L893.93 1634.1 L894.16 1634.09 L894.38 1634.09 L894.61 1634.08 L894.84 1634.08 L895.06 1634.07 L895.29 1634.06 L895.52 1634.06 L895.75 1634.05 L895.97 1634.04 L896.2 1634.04 L896.43 1634.03 L896.65 1634.03 L896.88 1634.02 L897.11 1634.01 L897.33 1634.01 L897.56 1634 L897.79 1633.99 L898.01 1633.99 L898.24 1633.98 L898.47 1633.97 L898.69 1633.97 L898.92 1633.96 L899.15 1633.95 L899.38 1633.95 L899.6 1633.94 L899.83 1633.93 L900.06 1633.93 L900.28 1633.92 L900.51 1633.91 L900.74 1633.91 L900.96 1633.9 L901.19 1633.89 L901.42 1633.88 L901.64 1633.88 L901.87 1633.87 L902.1 1633.86 L902.32 1633.85 L902.55 1633.85 L902.78 1633.84 L903.01 1633.83 L903.23 1633.82 L903.46 1633.82 L903.69 1633.81 L903.91 1633.8 L904.14 1633.79 L904.37 1633.79 L904.59 1633.78 L904.82 1633.77 L905.05 1633.76 L905.27 1633.75 L905.5 1633.74 L905.73 1633.74 L905.95 1633.73 L906.18 1633.72 L906.41 1633.71 L906.64 1633.7 L906.86 1633.69 L907.09 1633.69 L907.32 1633.68 L907.54 1633.67 L907.77 1633.66 L908 1633.65 L908.22 1633.64 L908.45 1633.63 L908.68 1633.62 L908.9 1633.61 L909.13 1633.61 L909.36 1633.6 L909.58 1633.59 L909.81 1633.58 L910.04 1633.57 L910.27 1633.56 L910.49 1633.55 L910.72 1633.54 L910.95 1633.53 L911.17 1633.52 L911.4 1633.51 L911.63 1633.5 L911.85 1633.49 L912.08 1633.48 L912.31 1633.47 L912.53 1633.46 L912.76 1633.45 L912.99 1633.44 L913.22 1633.43 L913.44 1633.42 L913.67 1633.41 L913.9 1633.4 L914.12 1633.39 L914.35 1633.38 L914.58 1633.36 L914.8 1633.35 L915.03 1633.34 L915.26 1633.33 L915.48 1633.32 L915.71 1633.31 L915.94 1633.3 L916.16 1633.28 L916.39 1633.27 L916.62 1633.26 L916.85 1633.25 L917.07 1633.24 L917.3 1633.23 L917.53 1633.21 L917.75 1633.2 L917.98 1633.19 L918.21 1633.18 L918.43 1633.16 L918.66 1633.15 L918.89 1633.14 L919.11 1633.13 L919.34 1633.11 L919.57 1633.1 L919.79 1633.09 L920.02 1633.07 L920.25 1633.06 L920.48 1633.05 L920.7 1633.03 L920.93 1633.02 L921.16 1633.01 L921.38 1632.99 L921.61 1632.98 L921.84 1632.96 L922.06 1632.95 L922.29 1632.93 L922.52 1632.92 L922.74 1632.91 L922.97 1632.89 L923.2 1632.88 L923.42 1632.86 L923.65 1632.85 L923.88 1632.83 L924.11 1632.81 L924.33 1632.8 L924.56 1632.78 L924.79 1632.77 L925.01 1632.75 L925.24 1632.74 L925.47 1632.72 L925.69 1632.7 L925.92 1632.69 L926.15 1632.67 L926.37 1632.65 L926.6 1632.64 L926.83 1632.62 L927.05 1632.6 L927.28 1632.58 L927.51 1632.57 L927.74 1632.55 L927.96 1632.53 L928.19 1632.51 L928.42 1632.49 L928.64 1632.48 L928.87 1632.46 L929.1 1632.44 L929.32 1632.42 L929.55 1632.4 L929.78 1632.38 L930 1632.36 L930.23 1632.34 L930.46 1632.32 L930.68 1632.3 L930.91 1632.28 L931.14 1632.26 L931.37 1632.24 L931.59 1632.22 L931.82 1632.2 L932.05 1632.18 L932.27 1632.16 L932.5 1632.13 L932.73 1632.11 L932.95 1632.09 L933.18 1632.07 L933.41 1632.05 L933.63 1632.02 L933.86 1632 L934.09 1631.98 L934.31 1631.95 L934.54 1631.93 L934.77 1631.91 L935 1631.88 L935.22 1631.86 L935.45 1631.83 L935.68 1631.81 L935.9 1631.78 L936.13 1631.76 L936.36 1631.73 L936.58 1631.71 L936.81 1631.68 L937.04 1631.65 L937.26 1631.63 L937.49 1631.6 L937.72 1631.57 L937.94 1631.54 L938.17 1631.52 L938.4 1631.49 L938.62 1631.46 L938.85 1631.43 L939.08 1631.4 L939.31 1631.37 L939.53 1631.34 L939.76 1631.31 L939.99 1631.28 L940.21 1631.25 L940.44 1631.22 L940.67 1631.19 L940.89 1631.16 L941.12 1631.13 L941.35 1631.09 L941.57 1631.06 L941.8 1631.03 L942.03 1630.99 L942.25 1630.96 L942.48 1630.93 L942.71 1630.89 L942.94 1630.86 L943.16 1630.82 L943.39 1630.79 L943.62 1630.75 L943.84 1630.71 L944.07 1630.68 L944.3 1630.64 L944.52 1630.6 L944.75 1630.56 L944.98 1630.52 L945.2 1630.48 L945.43 1630.44 L945.66 1630.4 L945.88 1630.36 L946.11 1630.32 L946.34 1630.28 L946.57 1630.24 L946.79 1630.2 L947.02 1630.15 L947.25 1630.11 L947.47 1630.07 L947.7 1630.02 L947.93 1629.98 L948.15 1629.93 L948.38 1629.88 L948.61 1629.84 L948.83 1629.79 L949.06 1629.74 L949.29 1629.69 L949.51 1629.64 L949.74 1629.59 L949.97 1629.54 L950.2 1629.49 L950.42 1629.44 L950.65 1629.38 L950.88 1629.33 L951.1 1629.28 L951.33 1629.22 L951.56 1629.17 L951.78 1629.11 L952.01 1629.05 L952.24 1629 L952.46 1628.94 L952.69 1628.88 L952.92 1628.82 L953.14 1628.76 L953.37 1628.69 L953.6 1628.63 L953.83 1628.57 L954.05 1628.5 L954.28 1628.44 L954.51 1628.37 L954.73 1628.31 L954.96 1628.24 L955.19 1628.17 L955.41 1628.1 L955.64 1628.03 L955.87 1627.96 L956.09 1627.88 L956.32 1627.81 L956.55 1627.73 L956.77 1627.66 L957 1627.58 L957.23 1627.5 L957.46 1627.42 L957.68 1627.34 L957.91 1627.26 L958.14 1627.17 L958.36 1627.09 L958.59 1627 L958.82 1626.92 L959.04 1626.83 L959.27 1626.74 L959.5 1626.65 L959.72 1626.55 L959.95 1626.46 L960.18 1626.36 L960.4 1626.26 L960.63 1626.17 L960.86 1626.07 L961.09 1625.96 L961.31 1625.86 L961.54 1625.75 L961.77 1625.65 L961.99 1625.54 L962.22 1625.43 L962.45 1625.31 L962.67 1625.2 L962.9 1625.08 L963.13 1624.97 L963.35 1624.85 L963.58 1624.72 L963.81 1624.6 L964.03 1624.47 L964.26 1624.34 L964.49 1624.21 L964.72 1624.08 L964.94 1623.94 L965.17 1623.8 L965.4 1623.66 L965.62 1623.52 L965.85 1623.38 L966.08 1623.23 L966.3 1623.08 L966.53 1622.92 L966.76 1622.76 L966.98 1622.61 L967.21 1622.44 L967.44 1622.28 L967.66 1622.11 L967.89 1621.94 L968.12 1621.76 L968.35 1621.58 L968.57 1621.4 L968.8 1621.21 L969.03 1621.02 L969.25 1620.83 L969.48 1620.63 L969.71 1620.43 L969.93 1620.23 L970.16 1620.02 L970.39 1619.81 L970.61 1619.59 L970.84 1619.37 L971.07 1619.14 L971.29 1618.91 L971.52 1618.67 L971.75 1618.43 L971.98 1618.18 L972.2 1617.93 L972.43 1617.67 L972.66 1617.41 L972.88 1617.14 L973.11 1616.87 L973.34 1616.59 L973.56 1616.3 L973.79 1616 L974.02 1615.7 L974.24 1615.4 L974.47 1615.08 L974.7 1614.76 L974.92 1614.43 L975.15 1614.09 L975.38 1613.75 L975.61 1613.4 L975.83 1613.03 L976.06 1612.66 L976.29 1612.28 L976.51 1611.9 L976.74 1611.5 L976.97 1611.09 L977.19 1610.67 L977.42 1610.24 L977.65 1609.8 L977.87 1609.35 L978.1 1608.89 L978.33 1608.41 L978.55 1607.92 L978.78 1607.42 L979.01 1606.91 L979.24 1606.38 L979.46 1605.84 L979.69 1605.28 L979.92 1604.7 L980.14 1604.12 L980.37 1603.51 L980.6 1602.89 L980.82 1602.25 L981.05 1601.59 L981.28 1600.91 L981.5 1600.21 L981.73 1599.49 L981.96 1598.75 L982.19 1597.99 L982.41 1597.2 L982.64 1596.39 L982.87 1595.56 L983.09 1594.7 L983.32 1593.81 L983.55 1592.89 L983.77 1591.95 L984 1590.97 L984.23 1589.96 L984.45 1588.92 L984.68 1587.85 L984.91 1586.73 L985.13 1585.59 L985.36 1584.4 L985.59 1583.17 L985.81 1581.9 L986.04 1580.58 L986.27 1579.22 L986.5 1577.81 L986.72 1576.35 L986.95 1574.83 L987.18 1573.26 L987.4 1571.63 L987.63 1569.95 L987.86 1568.19 L988.08 1566.38 L988.31 1564.49 L988.54 1562.53 L988.76 1560.49 L988.99 1558.38 L989.22 1556.18 L989.44 1553.89 L989.67 1551.51 L989.9 1549.04 L990.13 1546.46 L990.35 1543.78 L990.58 1540.99 L990.81 1538.09 L991.03 1535.06 L991.26 1531.9 L991.49 1528.62 L991.71 1525.19 L991.94 1521.61 L992.17 1517.89 L992.39 1514 L992.62 1509.95 L992.85 1505.72 L993.07 1501.31 L993.3 1496.71 L993.53 1491.92 L993.76 1486.92 L993.98 1481.7 L994.21 1476.26 L994.44 1470.6 L994.66 1464.7 L994.89 1458.56 L995.12 1452.17 L995.34 1445.53 L995.57 1438.64 L995.8 1431.48 L996.02 1424.06 L996.25 1416.39 L996.48 1408.46 L996.7 1400.28 L996.93 1391.86 L997.16 1383.21 L997.39 1374.35 L997.61 1365.31 L997.84 1356.11 L998.07 1346.78 L998.29 1337.36 L998.52 1327.9 L998.75 1318.45 L998.97 1309.07 L999.2 1299.82 L999.43 1290.78 L999.65 1282.02 L999.88 1273.62 L1000.11 1265.67 L1000.33 1258.26 L1000.56 1251.46 L1000.79 1245.37 L1001.02 1240.07 L1001.24 1235.62 L1001.47 1232.09 L1001.7 1229.53 L1001.92 1227.98 L1002.15 1227.46 L1002.38 1227.98 L1002.6 1229.53 L1002.83 1232.09 L1003.06 1235.62 L1003.28 1240.07 L1003.51 1245.37 L1003.74 1251.46 L1003.97 1258.26 L1004.19 1265.67 L1004.42 1273.62 L1004.65 1282.02 L1004.87 1290.78 L1005.1 1299.82 L1005.33 1309.07 L1005.55 1318.45 L1005.78 1327.9 L1006.01 1337.36 L1006.23 1346.78 L1006.46 1356.11 L1006.69 1365.31 L1006.91 1374.35 L1007.14 1383.21 L1007.37 1391.86 L1007.6 1400.28 L1007.82 1408.46 L1008.05 1416.39 L1008.28 1424.06 L1008.5 1431.48 L1008.73 1438.64 L1008.96 1445.53 L1009.18 1452.17 L1009.41 1458.56 L1009.64 1464.7 L1009.86 1470.6 L1010.09 1476.26 L1010.32 1481.7 L1010.54 1486.92 L1010.77 1491.92 L1011 1496.71 L1011.23 1501.31 L1011.45 1505.72 L1011.68 1509.95 L1011.91 1514 L1012.13 1517.89 L1012.36 1521.61 L1012.59 1525.19 L1012.81 1528.62 L1013.04 1531.9 L1013.27 1535.06 L1013.49 1538.09 L1013.72 1540.99 L1013.95 1543.78 L1014.17 1546.46 L1014.4 1549.04 L1014.63 1551.51 L1014.86 1553.89 L1015.08 1556.18 L1015.31 1558.38 L1015.54 1560.49 L1015.76 1562.53 L1015.99 1564.49 L1016.22 1566.38 L1016.44 1568.19 L1016.67 1569.95 L1016.9 1571.63 L1017.12 1573.26 L1017.35 1574.83 L1017.58 1576.35 L1017.8 1577.81 L1018.03 1579.22 L1018.26 1580.58 L1018.49 1581.9 L1018.71 1583.17 L1018.94 1584.4 L1019.17 1585.59 L1019.39 1586.73 L1019.62 1587.85 L1019.85 1588.92 L1020.07 1589.96 L1020.3 1590.97 L1020.53 1591.95 L1020.75 1592.89 L1020.98 1593.81 L1021.21 1594.7 L1021.43 1595.56 L1021.66 1596.39 L1021.89 1597.2 L1022.12 1597.99 L1022.34 1598.75 L1022.57 1599.49 L1022.8 1600.21 L1023.02 1600.91 L1023.25 1601.59 L1023.48 1602.25 L1023.7 1602.89 L1023.93 1603.51 L1024.16 1604.12 L1024.38 1604.7 L1024.61 1605.28 L1024.84 1605.84 L1025.06 1606.38 L1025.29 1606.91 L1025.52 1607.42 L1025.75 1607.92 L1025.97 1608.41 L1026.2 1608.89 L1026.43 1609.35 L1026.65 1609.8 L1026.88 1610.24 L1027.11 1610.67 L1027.33 1611.09 L1027.56 1611.5 L1027.79 1611.9 L1028.01 1612.28 L1028.24 1612.66 L1028.47 1613.03 L1028.69 1613.4 L1028.92 1613.75 L1029.15 1614.09 L1029.38 1614.43 L1029.6 1614.76 L1029.83 1615.08 L1030.06 1615.4 L1030.28 1615.7 L1030.51 1616 L1030.74 1616.3 L1030.96 1616.59 L1031.19 1616.87 L1031.42 1617.14 L1031.64 1617.41 L1031.87 1617.67 L1032.1 1617.93 L1032.32 1618.18 L1032.55 1618.43 L1032.78 1618.67 L1033.01 1618.91 L1033.23 1619.14 L1033.46 1619.37 L1033.69 1619.59 L1033.91 1619.81 L1034.14 1620.02 L1034.37 1620.23 L1034.59 1620.43 L1034.82 1620.63 L1035.05 1620.83 L1035.27 1621.02 L1035.5 1621.21 L1035.73 1621.4 L1035.95 1621.58 L1036.18 1621.76 L1036.41 1621.94 L1036.63 1622.11 L1036.86 1622.28 L1037.09 1622.44 L1037.32 1622.61 L1037.54 1622.76 L1037.77 1622.92 L1038 1623.08 L1038.22 1623.23 L1038.45 1623.38 L1038.68 1623.52 L1038.9 1623.66 L1039.13 1623.8 L1039.36 1623.94 L1039.58 1624.08 L1039.81 1624.21 L1040.04 1624.34 L1040.27 1624.47 L1040.49 1624.6 L1040.72 1624.72 L1040.95 1624.85 L1041.17 1624.97 L1041.4 1625.08 L1041.63 1625.2 L1041.85 1625.31 L1042.08 1625.43 L1042.31 1625.54 L1042.53 1625.65 L1042.76 1625.75 L1042.99 1625.86 L1043.21 1625.96 L1043.44 1626.07 L1043.67 1626.17 L1043.89 1626.26 L1044.12 1626.36 L1044.35 1626.46 L1044.58 1626.55 L1044.8 1626.65 L1045.03 1626.74 L1045.26 1626.83 L1045.48 1626.92 L1045.71 1627 L1045.94 1627.09 L1046.16 1627.17 L1046.39 1627.26 L1046.62 1627.34 L1046.84 1627.42 L1047.07 1627.5 L1047.3 1627.58 L1047.53 1627.66 L1047.75 1627.73 L1047.98 1627.81 L1048.21 1627.88 L1048.43 1627.96 L1048.66 1628.03 L1048.89 1628.1 L1049.11 1628.17 L1049.34 1628.24 L1049.57 1628.31 L1049.79 1628.37 L1050.02 1628.44 L1050.25 1628.5 L1050.47 1628.57 L1050.7 1628.63 L1050.93 1628.69 L1051.16 1628.76 L1051.38 1628.82 L1051.61 1628.88 L1051.84 1628.94 L1052.06 1629 L1052.29 1629.05 L1052.52 1629.11 L1052.74 1629.17 L1052.97 1629.22 L1053.2 1629.28 L1053.42 1629.33 L1053.65 1629.38 L1053.88 1629.44 L1054.1 1629.49 L1054.33 1629.54 L1054.56 1629.59 L1054.79 1629.64 L1055.01 1629.69 L1055.24 1629.74 L1055.47 1629.79 L1055.69 1629.84 L1055.92 1629.88 L1056.15 1629.93 L1056.37 1629.98 L1056.6 1630.02 L1056.83 1630.07 L1057.05 1630.11 L1057.28 1630.15 L1057.51 1630.2 L1057.73 1630.24 L1057.96 1630.28 L1058.19 1630.32 L1058.42 1630.36 L1058.64 1630.4 L1058.87 1630.44 L1059.1 1630.48 L1059.32 1630.52 L1059.55 1630.56 L1059.78 1630.6 L1060 1630.64 L1060.23 1630.68 L1060.46 1630.71 L1060.68 1630.75 L1060.91 1630.79 L1061.14 1630.82 L1061.36 1630.86 L1061.59 1630.89 L1061.82 1630.93 L1062.05 1630.96 L1062.27 1630.99 L1062.5 1631.03 L1062.73 1631.06 L1062.95 1631.09 L1063.18 1631.13 L1063.41 1631.16 L1063.63 1631.19 L1063.86 1631.22 L1064.09 1631.25 L1064.31 1631.28 L1064.54 1631.31 L1064.77 1631.34 L1064.99 1631.37 L1065.22 1631.4 L1065.45 1631.43 L1065.68 1631.46 L1065.9 1631.49 L1066.13 1631.52 L1066.36 1631.54 L1066.58 1631.57 L1066.81 1631.6 L1067.04 1631.63 L1067.26 1631.65 L1067.49 1631.68 L1067.72 1631.71 L1067.94 1631.73 L1068.17 1631.76 L1068.4 1631.78 L1068.62 1631.81 L1068.85 1631.83 L1069.08 1631.86 L1069.31 1631.88 L1069.53 1631.91 L1069.76 1631.93 L1069.99 1631.95 L1070.21 1631.98 L1070.44 1632 L1070.67 1632.02 L1070.89 1632.05 L1071.12 1632.07 L1071.35 1632.09 L1071.57 1632.11 L1071.8 1632.13 L1072.03 1632.16 L1072.25 1632.18 L1072.48 1632.2 L1072.71 1632.22 L1072.94 1632.24 L1073.16 1632.26 L1073.39 1632.28 L1073.62 1632.3 L1073.84 1632.32 L1074.07 1632.34 L1074.3 1632.36 L1074.52 1632.38 L1074.75 1632.4 L1074.98 1632.42 L1075.2 1632.44 L1075.43 1632.46 L1075.66 1632.48 L1075.88 1632.49 L1076.11 1632.51 L1076.34 1632.53 L1076.57 1632.55 L1076.79 1632.57 L1077.02 1632.58 L1077.25 1632.6 L1077.47 1632.62 L1077.7 1632.64 L1077.93 1632.65 L1078.15 1632.67 L1078.38 1632.69 L1078.61 1632.7 L1078.83 1632.72 L1079.06 1632.74 L1079.29 1632.75 L1079.51 1632.77 L1079.74 1632.78 L1079.97 1632.8 L1080.2 1632.81 L1080.42 1632.83 L1080.65 1632.85 L1080.88 1632.86 L1081.1 1632.88 L1081.33 1632.89 L1081.56 1632.91 L1081.78 1632.92 L1082.01 1632.93 L1082.24 1632.95 L1082.46 1632.96 L1082.69 1632.98 L1082.92 1632.99 L1083.14 1633.01 L1083.37 1633.02 L1083.6 1633.03 L1083.83 1633.05 L1084.05 1633.06 L1084.28 1633.07 L1084.51 1633.09 L1084.73 1633.1 L1084.96 1633.11 L1085.19 1633.13 L1085.41 1633.14 L1085.64 1633.15 L1085.87 1633.16 L1086.09 1633.18 L1086.32 1633.19 L1086.55 1633.2 L1086.77 1633.21 L1087 1633.23 L1087.23 1633.24 L1087.46 1633.25 L1087.68 1633.26 L1087.91 1633.27 L1088.14 1633.28 L1088.36 1633.3 L1088.59 1633.31 L1088.82 1633.32 L1089.04 1633.33 L1089.27 1633.34 L1089.5 1633.35 L1089.72 1633.36 L1089.95 1633.38 L1090.18 1633.39 L1090.4 1633.4 L1090.63 1633.41 L1090.86 1633.42 L1091.09 1633.43 L1091.31 1633.44 L1091.54 1633.45 L1091.77 1633.46 L1091.99 1633.47 L1092.22 1633.48 L1092.45 1633.49 L1092.67 1633.5 L1092.9 1633.51 L1093.13 1633.52 L1093.35 1633.53 L1093.58 1633.54 L1093.81 1633.55 L1094.03 1633.56 L1094.26 1633.57 L1094.49 1633.58 L1094.72 1633.59 L1094.94 1633.6 L1095.17 1633.61 L1095.4 1633.61 L1095.62 1633.62 L1095.85 1633.63 L1096.08 1633.64 L1096.3 1633.65 L1096.53 1633.66 L1096.76 1633.67 L1096.98 1633.68 L1097.21 1633.69 L1097.44 1633.69 L1097.66 1633.7 L1097.89 1633.71 L1098.12 1633.72 L1098.35 1633.73 L1098.57 1633.74 L1098.8 1633.74 L1099.03 1633.75 L1099.25 1633.76 L1099.48 1633.77 L1099.71 1633.78 L1099.93 1633.79 L1100.16 1633.79 L1100.39 1633.8 L1100.61 1633.81 L1100.84 1633.82 L1101.07 1633.82 L1101.29 1633.83 L1101.52 1633.84 L1101.75 1633.85 L1101.98 1633.85 L1102.2 1633.86 L1102.43 1633.87 L1102.66 1633.88 L1102.88 1633.88 L1103.11 1633.89 L1103.34 1633.9 L1103.56 1633.91 L1103.79 1633.91 L1104.02 1633.92 L1104.24 1633.93 L1104.47 1633.93 L1104.7 1633.94 L1104.92 1633.95 L1105.15 1633.95 L1105.38 1633.96 L1105.61 1633.97 L1105.83 1633.97 L1106.06 1633.98 L1106.29 1633.99 L1106.51 1633.99 L1106.74 1634 L1106.97 1634.01 L1107.19 1634.01 L1107.42 1634.02 L1107.65 1634.03 L1107.87 1634.03 L1108.1 1634.04 L1108.33 1634.04 L1108.55 1634.05 L1108.78 1634.06 L1109.01 1634.06 L1109.24 1634.07 L1109.46 1634.08 L1109.69 1634.08 L1109.92 1634.09 L1110.14 1634.09 L1110.37 1634.1 L1110.6 1634.1 L1110.82 1634.11 L1111.05 1634.12 L1111.28 1634.12 L1111.5 1634.13 L1111.73 1634.13 L1111.96 1634.14 L1112.18 1634.14 L1112.41 1634.15 L1112.64 1634.16 L1112.87 1634.16 L1113.09 1634.17 L1113.32 1634.17 L1113.55 1634.18 L1113.77 1634.18 L1114 1634.19 L1114.23 1634.19 L1114.45 1634.2 L1114.68 1634.2 L1114.91 1634.21 L1115.13 1634.21 L1115.36 1634.22 L1115.59 1634.22 L1115.81 1634.23 L1116.04 1634.23 L1116.27 1634.24 L1116.5 1634.24 L1116.72 1634.25 L1116.95 1634.25 L1117.18 1634.26 L1117.4 1634.26 L1117.63 1634.27 L1117.86 1634.27 L1118.08 1634.28 L1118.31 1634.28 L1118.54 1634.29 L1118.76 1634.29 L1118.99 1634.3 L1119.22 1634.3 L1119.44 1634.31 L1119.67 1634.31 L1119.9 1634.32 L1120.12 1634.32 L1120.35 1634.32 L1120.58 1634.33 L1120.81 1634.33 L1121.03 1634.34 L1121.26 1634.34 L1121.49 1634.35 L1121.71 1634.35 L1121.94 1634.36 L1122.17 1634.36 L1122.39 1634.36 L1122.62 1634.37 L1122.85 1634.37 L1123.07 1634.38 L1123.3 1634.38 L1123.53 1634.39 L1123.76 1634.39 L1123.98 1634.39 L1124.21 1634.4 L1124.44 1634.4 L1124.66 1634.41 L1124.89 1634.41 L1125.12 1634.41 L1125.34 1634.42 L1125.57 1634.42 L1125.8 1634.43 L1126.02 1634.43 L1126.25 1634.43 L1126.48 1634.44 L1126.7 1634.44 L1126.93 1634.45 L1127.16 1634.45 L1127.38 1634.45 L1127.61 1634.46 L1127.84 1634.46 L1128.07 1634.46 L1128.29 1634.47 L1128.52 1634.47 L1128.75 1634.48 L1128.97 1634.48 L1129.2 1634.48 L1129.43 1634.49 L1129.65 1634.49 L1129.88 1634.49 L1130.11 1634.5 L1130.33 1634.5 L1130.56 1634.5 L1130.79 1634.51 L1131.02 1634.51 L1131.24 1634.51 L1131.47 1634.52 L1131.7 1634.52 L1131.92 1634.52 L1132.15 1634.53 L1132.38 1634.53 L1132.6 1634.53 L1132.83 1634.54 L1133.06 1634.54 L1133.28 1634.54 L1133.51 1634.55 L1133.74 1634.55 L1133.96 1634.55 L1134.19 1634.56 L1134.42 1634.56 L1134.64 1634.56 L1134.87 1634.57 L1135.1 1634.57 L1135.33 1634.57 L1135.55 1634.58 L1135.78 1634.58 L1136.01 1634.58 L1136.23 1634.59 L1136.46 1634.59 L1136.69 1634.59 L1136.91 1634.6 L1137.14 1634.6 L1137.37 1634.6 L1137.59 1634.6 L1137.82 1634.61 L1138.05 1634.61 L1138.28 1634.61 L1138.5 1634.62 L1138.73 1634.62 L1138.96 1634.62 L1139.18 1634.62 L1139.41 1634.63 L1139.64 1634.63 L1139.86 1634.63 L1140.09 1634.64 L1140.32 1634.64 L1140.54 1634.64 L1140.77 1634.64 L1141 1634.65 L1141.22 1634.65 L1141.45 1634.65 L1141.68 1634.66 L1141.91 1634.66 L1142.13 1634.66 L1142.36 1634.66 L1142.59 1634.67 L1142.81 1634.67 L1143.04 1634.67 L1143.27 1634.67 L1143.49 1634.68 L1143.72 1634.68 L1143.95 1634.68 L1144.17 1634.69 L1144.4 1634.69 L1144.63 1634.69 L1144.85 1634.69 L1145.08 1634.7 L1145.31 1634.7 L1145.54 1634.7 L1145.76 1634.7 L1145.99 1634.71 L1146.22 1634.71 L1146.44 1634.71 L1146.67 1634.71 L1146.9 1634.72 L1147.12 1634.72 L1147.35 1634.72 L1147.58 1634.72 L1147.8 1634.73 L1148.03 1634.73 L1148.26 1634.73 L1148.48 1634.73 L1148.71 1634.73 L1148.94 1634.74 L1149.17 1634.74 L1149.39 1634.74 L1149.62 1634.74 L1149.85 1634.75 L1150.07 1634.75 L1150.3 1634.75 L1150.53 1634.75 L1150.75 1634.76 L1150.98 1634.76 L1151.21 1634.76 L1151.43 1634.76 L1151.66 1634.76 L1151.89 1634.77 L1152.11 1634.77 L1152.34 1634.77 L1152.57 1634.77 L1152.8 1634.78 L1153.02 1634.78 L1153.25 1634.78 L1153.48 1634.78 L1153.7 1634.78 L1153.93 1634.79 L1154.16 1634.79 L1154.38 1634.79 L1154.61 1634.79 L1154.84 1634.79 L1155.06 1634.8 L1155.29 1634.8 L1155.52 1634.8 L1155.74 1634.8 L1155.97 1634.81 L1156.2 1634.81 L1156.43 1634.81 L1156.65 1634.81 L1156.88 1634.81 L1157.11 1634.82 L1157.33 1634.82 L1157.56 1634.82 L1157.79 1634.82 L1158.01 1634.82 L1158.24 1634.83 L1158.47 1634.83 L1158.69 1634.83 L1158.92 1634.83 L1159.15 1634.83 L1159.37 1634.83 L1159.6 1634.84 L1159.83 1634.84 L1160.06 1634.84 L1160.28 1634.84 L1160.51 1634.84 L1160.74 1634.85 L1160.96 1634.85 L1161.19 1634.85 L1161.42 1634.85 L1161.64 1634.85 L1161.87 1634.86 L1162.1 1634.86 L1162.32 1634.86 L1162.55 1634.86 L1162.78 1634.86 L1163 1634.86 L1163.23 1634.87 L1163.46 1634.87 L1163.69 1634.87 L1163.91 1634.87 L1164.14 1634.87 L1164.37 1634.88 L1164.59 1634.88 L1164.82 1634.88 L1165.05 1634.88 L1165.27 1634.88 L1165.5 1634.88 L1165.73 1634.89 L1165.95 1634.89 L1166.18 1634.89 L1166.41 1634.89 L1166.63 1634.89 L1166.86 1634.89 L1167.09 1634.9 L1167.32 1634.9 L1167.54 1634.9 L1167.77 1634.9 L1168 1634.9 L1168.22 1634.9 L1168.45 1634.91 L1168.68 1634.91 L1168.9 1634.91 L1169.13 1634.91 L1169.36 1634.91 L1169.58 1634.91 L1169.81 1634.92 L1170.04 1634.92 L1170.26 1634.92 L1170.49 1634.92 L1170.72 1634.92 L1170.95 1634.92 L1171.17 1634.92 L1171.4 1634.93 L1171.63 1634.93 L1171.85 1634.93 L1172.08 1634.93 L1172.31 1634.93 L1172.53 1634.93 L1172.76 1634.94 L1172.99 1634.94 L1173.21 1634.94 L1173.44 1634.94 L1173.67 1634.94 L1173.89 1634.94 L1174.12 1634.94 L1174.35 1634.95 L1174.58 1634.95 L1174.8 1634.95 L1175.03 1634.95 L1175.26 1634.95 L1175.48 1634.95 L1175.71 1634.95 L1175.94 1634.96 L1176.16 1634.96 L1176.39 1634.96 L1176.62 1634.96 L1176.84 1634.96 L1177.07 1634.96 L1177.3 1634.96 L1177.52 1634.97 L1177.75 1634.97 L1177.98 1634.97 L1178.21 1634.97 L1178.43 1634.97 L1178.66 1634.97 L1178.89 1634.97 L1179.11 1634.97 L1179.34 1634.98 L1179.57 1634.98 L1179.79 1634.98 L1180.02 1634.98 L1180.25 1634.98 L1180.47 1634.98 L1180.7 1634.98 L1180.93 1634.99 L1181.15 1634.99 L1181.38 1634.99 L1181.61 1634.99 L1181.84 1634.99 L1182.06 1634.99 L1182.29 1634.99 L1182.52 1634.99 L1182.74 1635 L1182.97 1635 L1183.2 1635 L1183.42 1635 L1183.65 1635" fill="none" stroke="#ed1c24" stroke-width="2.6" stroke-linejoin="round" clip-path="url(#cf)"/>
<path d="M729.9 1634.99 L730.13 1634.99 L730.35 1634.99 L730.58 1634.99 L730.81 1634.99 L731.03 1634.99 L731.26 1634.99 L731.49 1634.99 L731.72 1634.98 L731.94 1634.98 L732.17 1634.98 L732.4 1634.98 L732.62 1634.98 L732.85 1634.98 L733.08 1634.98 L733.3 1634.98 L733.53 1634.97 L733.76 1634.97 L733.98 1634.97 L734.21 1634.97 L734.44 1634.97 L734.66 1634.97 L734.89 1634.97 L735.12 1634.96 L735.34 1634.96 L735.57 1634.96 L735.8 1634.96 L736.03 1634.96 L736.25 1634.96 L736.48 1634.96 L736.71 1634.95 L736.93 1634.95 L737.16 1634.95 L737.39 1634.95 L737.61 1634.95 L737.84 1634.95 L738.07 1634.95 L738.29 1634.94 L738.52 1634.94 L738.75 1634.94 L738.98 1634.94 L739.2 1634.94 L739.43 1634.94 L739.66 1634.94 L739.88 1634.93 L740.11 1634.93 L740.34 1634.93 L740.56 1634.93 L740.79 1634.93 L741.02 1634.93 L741.24 1634.93 L741.47 1634.92 L741.7 1634.92 L741.92 1634.92 L742.15 1634.92 L742.38 1634.92 L742.61 1634.92 L742.83 1634.91 L743.06 1634.91 L743.29 1634.91 L743.51 1634.91 L743.74 1634.91 L743.97 1634.91 L744.19 1634.9 L744.42 1634.9 L744.65 1634.9 L744.87 1634.9 L745.1 1634.9 L745.33 1634.9 L745.55 1634.89 L745.78 1634.89 L746.01 1634.89 L746.24 1634.89 L746.46 1634.89 L746.69 1634.89 L746.92 1634.88 L747.14 1634.88 L747.37 1634.88 L747.6 1634.88 L747.82 1634.88 L748.05 1634.88 L748.28 1634.87 L748.5 1634.87 L748.73 1634.87 L748.96 1634.87 L749.18 1634.87 L749.41 1634.87 L749.64 1634.86 L749.87 1634.86 L750.09 1634.86 L750.32 1634.86 L750.55 1634.86 L750.77 1634.85 L751 1634.85 L751.23 1634.85 L751.45 1634.85 L751.68 1634.85 L751.91 1634.85 L752.13 1634.84 L752.36 1634.84 L752.59 1634.84 L752.81 1634.84 L753.04 1634.84 L753.27 1634.83 L753.5 1634.83 L753.72 1634.83 L753.95 1634.83 L754.18 1634.83 L754.4 1634.82 L754.63 1634.82 L754.86 1634.82 L755.08 1634.82 L755.31 1634.82 L755.54 1634.81 L755.76 1634.81 L755.99 1634.81 L756.22 1634.81 L756.44 1634.81 L756.67 1634.8 L756.9 1634.8 L757.12 1634.8 L757.35 1634.8 L757.58 1634.8 L757.81 1634.79 L758.03 1634.79 L758.26 1634.79 L758.49 1634.79 L758.71 1634.79 L758.94 1634.78 L759.17 1634.78 L759.39 1634.78 L759.62 1634.78 L759.85 1634.78 L760.07 1634.77 L760.3 1634.77 L760.53 1634.77 L760.75 1634.77 L760.98 1634.76 L761.21 1634.76 L761.44 1634.76 L761.66 1634.76 L761.89 1634.76 L762.12 1634.75 L762.34 1634.75 L762.57 1634.75 L762.8 1634.75 L763.02 1634.74 L763.25 1634.74 L763.48 1634.74 L763.7 1634.74 L763.93 1634.73 L764.16 1634.73 L764.38 1634.73 L764.61 1634.73 L764.84 1634.73 L765.07 1634.72 L765.29 1634.72 L765.52 1634.72 L765.75 1634.72 L765.97 1634.71 L766.2 1634.71 L766.43 1634.71 L766.65 1634.71 L766.88 1634.7 L767.11 1634.7 L767.33 1634.7 L767.56 1634.7 L767.79 1634.69 L768.01 1634.69 L768.24 1634.69 L768.47 1634.69 L768.7 1634.68 L768.92 1634.68 L769.15 1634.68 L769.38 1634.68 L769.6 1634.67 L769.83 1634.67 L770.06 1634.67 L770.28 1634.66 L770.51 1634.66 L770.74 1634.66 L770.96 1634.66 L771.19 1634.65 L771.42 1634.65 L771.64 1634.65 L771.87 1634.65 L772.1 1634.64 L772.33 1634.64 L772.55 1634.64 L772.78 1634.63 L773.01 1634.63 L773.23 1634.63 L773.46 1634.63 L773.69 1634.62 L773.91 1634.62 L774.14 1634.62 L774.37 1634.61 L774.59 1634.61 L774.82 1634.61 L775.05 1634.61 L775.27 1634.6 L775.5 1634.6 L775.73 1634.6 L775.96 1634.59 L776.18 1634.59 L776.41 1634.59 L776.64 1634.58 L776.86 1634.58 L777.09 1634.58 L777.32 1634.57 L777.54 1634.57 L777.77 1634.57 L778 1634.57 L778.22 1634.56 L778.45 1634.56 L778.68 1634.56 L778.9 1634.55 L779.13 1634.55 L779.36 1634.55 L779.59 1634.54 L779.81 1634.54 L780.04 1634.54 L780.27 1634.53 L780.49 1634.53 L780.72 1634.53 L780.95 1634.52 L781.17 1634.52 L781.4 1634.52 L781.63 1634.51 L781.85 1634.51 L782.08 1634.51 L782.31 1634.5 L782.53 1634.5 L782.76 1634.5 L782.99 1634.49 L783.22 1634.49 L783.44 1634.48 L783.67 1634.48 L783.9 1634.48 L784.12 1634.47 L784.35 1634.47 L784.58 1634.47 L784.8 1634.46 L785.03 1634.46 L785.26 1634.46 L785.48 1634.45 L785.71 1634.45 L785.94 1634.44 L786.16 1634.44 L786.39 1634.44 L786.62 1634.43 L786.85 1634.43 L787.07 1634.42 L787.3 1634.42 L787.53 1634.42 L787.75 1634.41 L787.98 1634.41 L788.21 1634.4 L788.43 1634.4 L788.66 1634.4 L788.89 1634.39 L789.11 1634.39 L789.34 1634.38 L789.57 1634.38 L789.79 1634.38 L790.02 1634.37 L790.25 1634.37 L790.48 1634.36 L790.7 1634.36 L790.93 1634.35 L791.16 1634.35 L791.38 1634.35 L791.61 1634.34 L791.84 1634.34 L792.06 1634.33 L792.29 1634.33 L792.52 1634.32 L792.74 1634.32 L792.97 1634.31 L793.2 1634.31 L793.42 1634.31 L793.65 1634.3 L793.88 1634.3 L794.11 1634.29 L794.33 1634.29 L794.56 1634.28 L794.79 1634.28 L795.01 1634.27 L795.24 1634.27 L795.47 1634.26 L795.69 1634.26 L795.92 1634.25 L796.15 1634.25 L796.37 1634.24 L796.6 1634.24 L796.83 1634.23 L797.05 1634.23 L797.28 1634.22 L797.51 1634.22 L797.74 1634.21 L797.96 1634.21 L798.19 1634.2 L798.42 1634.2 L798.64 1634.19 L798.87 1634.19 L799.1 1634.18 L799.32 1634.18 L799.55 1634.17 L799.78 1634.17 L800 1634.16 L800.23 1634.16 L800.46 1634.15 L800.68 1634.14 L800.91 1634.14 L801.14 1634.13 L801.37 1634.13 L801.59 1634.12 L801.82 1634.12 L802.05 1634.11 L802.27 1634.1 L802.5 1634.1 L802.73 1634.09 L802.95 1634.09 L803.18 1634.08 L803.41 1634.08 L803.63 1634.07 L803.86 1634.06 L804.09 1634.06 L804.31 1634.05 L804.54 1634.05 L804.77 1634.04 L805 1634.03 L805.22 1634.03 L805.45 1634.02 L805.68 1634.01 L805.9 1634.01 L806.13 1634 L806.36 1633.99 L806.58 1633.99 L806.81 1633.98 L807.04 1633.98 L807.26 1633.97 L807.49 1633.96 L807.72 1633.96 L807.94 1633.95 L808.17 1633.94 L808.4 1633.93 L808.63 1633.93 L808.85 1633.92 L809.08 1633.91 L809.31 1633.91 L809.53 1633.9 L809.76 1633.89 L809.99 1633.89 L810.21 1633.88 L810.44 1633.87 L810.67 1633.86 L810.89 1633.86 L811.12 1633.85 L811.35 1633.84 L811.57 1633.83 L811.8 1633.83 L812.03 1633.82 L812.26 1633.81 L812.48 1633.8 L812.71 1633.8 L812.94 1633.79 L813.16 1633.78 L813.39 1633.77 L813.62 1633.76 L813.84 1633.76 L814.07 1633.75 L814.3 1633.74 L814.52 1633.73 L814.75 1633.72 L814.98 1633.71 L815.2 1633.71 L815.43 1633.7 L815.66 1633.69 L815.89 1633.68 L816.11 1633.67 L816.34 1633.66 L816.57 1633.65 L816.79 1633.65 L817.02 1633.64 L817.25 1633.63 L817.47 1633.62 L817.7 1633.61 L817.93 1633.6 L818.15 1633.59 L818.38 1633.58 L818.61 1633.57 L818.83 1633.56 L819.06 1633.55 L819.29 1633.54 L819.52 1633.53 L819.74 1633.53 L819.97 1633.52 L820.2 1633.51 L820.42 1633.5 L820.65 1633.49 L820.88 1633.48 L821.1 1633.47 L821.33 1633.46 L821.56 1633.45 L821.78 1633.43 L822.01 1633.42 L822.24 1633.41 L822.47 1633.4 L822.69 1633.39 L822.92 1633.38 L823.15 1633.37 L823.37 1633.36 L823.6 1633.35 L823.83 1633.34 L824.05 1633.33 L824.28 1633.32 L824.51 1633.3 L824.73 1633.29 L824.96 1633.28 L825.19 1633.27 L825.41 1633.26 L825.64 1633.25 L825.87 1633.23 L826.1 1633.22 L826.32 1633.21 L826.55 1633.2 L826.78 1633.19 L827 1633.17 L827.23 1633.16 L827.46 1633.15 L827.68 1633.14 L827.91 1633.12 L828.14 1633.11 L828.36 1633.1 L828.59 1633.08 L828.82 1633.07 L829.04 1633.06 L829.27 1633.04 L829.5 1633.03 L829.73 1633.02 L829.95 1633 L830.18 1632.99 L830.41 1632.97 L830.63 1632.96 L830.86 1632.95 L831.09 1632.93 L831.31 1632.92 L831.54 1632.9 L831.77 1632.89 L831.99 1632.87 L832.22 1632.86 L832.45 1632.84 L832.67 1632.83 L832.9 1632.81 L833.13 1632.8 L833.36 1632.78 L833.58 1632.77 L833.81 1632.75 L834.04 1632.73 L834.26 1632.72 L834.49 1632.7 L834.72 1632.68 L834.94 1632.67 L835.17 1632.65 L835.4 1632.63 L835.62 1632.62 L835.85 1632.6 L836.08 1632.58 L836.3 1632.57 L836.53 1632.55 L836.76 1632.53 L836.99 1632.51 L837.21 1632.49 L837.44 1632.47 L837.67 1632.46 L837.89 1632.44 L838.12 1632.42 L838.35 1632.4 L838.57 1632.38 L838.8 1632.36 L839.03 1632.34 L839.25 1632.32 L839.48 1632.3 L839.71 1632.28 L839.93 1632.26 L840.16 1632.24 L840.39 1632.22 L840.62 1632.2 L840.84 1632.18 L841.07 1632.16 L841.3 1632.14 L841.52 1632.11 L841.75 1632.09 L841.98 1632.07 L842.2 1632.05 L842.43 1632.03 L842.66 1632 L842.88 1631.98 L843.11 1631.96 L843.34 1631.93 L843.56 1631.91 L843.79 1631.88 L844.02 1631.86 L844.25 1631.84 L844.47 1631.81 L844.7 1631.79 L844.93 1631.76 L845.15 1631.74 L845.38 1631.71 L845.61 1631.68 L845.83 1631.66 L846.06 1631.63 L846.29 1631.61 L846.51 1631.58 L846.74 1631.55 L846.97 1631.52 L847.19 1631.5 L847.42 1631.47 L847.65 1631.44 L847.88 1631.41 L848.1 1631.38 L848.33 1631.35 L848.56 1631.32 L848.78 1631.29 L849.01 1631.26 L849.24 1631.23 L849.46 1631.2 L849.69 1631.17 L849.92 1631.14 L850.14 1631.1 L850.37 1631.07 L850.6 1631.04 L850.82 1631.01 L851.05 1630.97 L851.28 1630.94 L851.5 1630.9 L851.73 1630.87 L851.96 1630.84 L852.19 1630.8 L852.41 1630.76 L852.64 1630.73 L852.87 1630.69 L853.09 1630.65 L853.32 1630.62 L853.55 1630.58 L853.77 1630.54 L854 1630.5 L854.23 1630.46 L854.45 1630.42 L854.68 1630.38 L854.91 1630.34 L855.13 1630.3 L855.36 1630.26 L855.59 1630.22 L855.82 1630.17 L856.04 1630.13 L856.27 1630.09 L856.5 1630.04 L856.72 1630 L856.95 1629.95 L857.18 1629.91 L857.4 1629.86 L857.63 1629.81 L857.86 1629.77 L858.08 1629.72 L858.31 1629.67 L858.54 1629.62 L858.76 1629.57 L858.99 1629.52 L859.22 1629.47 L859.45 1629.42 L859.67 1629.36 L859.9 1629.31 L860.13 1629.26 L860.35 1629.2 L860.58 1629.14 L860.81 1629.09 L861.03 1629.03 L861.26 1628.97 L861.49 1628.92 L861.71 1628.86 L861.94 1628.8 L862.17 1628.73 L862.39 1628.67 L862.62 1628.61 L862.85 1628.55 L863.08 1628.48 L863.3 1628.42 L863.53 1628.35 L863.76 1628.28 L863.98 1628.22 L864.21 1628.15 L864.44 1628.08 L864.66 1628.01 L864.89 1627.93 L865.12 1627.86 L865.34 1627.79 L865.57 1627.71 L865.8 1627.64 L866.02 1627.56 L866.25 1627.48 L866.48 1627.4 L866.71 1627.32 L866.93 1627.24 L867.16 1627.15 L867.39 1627.07 L867.61 1626.98 L867.84 1626.9 L868.07 1626.81 L868.29 1626.72 L868.52 1626.63 L868.75 1626.54 L868.97 1626.44 L869.2 1626.35 L869.43 1626.25 L869.65 1626.15 L869.88 1626.05 L870.11 1625.95 L870.34 1625.85 L870.56 1625.74 L870.79 1625.63 L871.02 1625.53 L871.24 1625.41 L871.47 1625.3 L871.7 1625.19 L871.92 1625.07 L872.15 1624.96 L872.38 1624.84 L872.6 1624.71 L872.83 1624.59 L873.06 1624.46 L873.28 1624.34 L873.51 1624.2 L873.74 1624.07 L873.97 1623.94 L874.19 1623.8 L874.42 1623.66 L874.65 1623.52 L874.87 1623.37 L875.1 1623.23 L875.33 1623.07 L875.55 1622.92 L875.78 1622.77 L876.01 1622.61 L876.23 1622.45 L876.46 1622.28 L876.69 1622.11 L876.91 1621.94 L877.14 1621.77 L877.37 1621.59 L877.6 1621.41 L877.82 1621.23 L878.05 1621.04 L878.28 1620.85 L878.5 1620.65 L878.73 1620.45 L878.96 1620.25 L879.18 1620.04 L879.41 1619.83 L879.64 1619.61 L879.86 1619.39 L880.09 1619.17 L880.32 1618.94 L880.54 1618.7 L880.77 1618.46 L881 1618.22 L881.23 1617.97 L881.45 1617.71 L881.68 1617.45 L881.91 1617.19 L882.13 1616.91 L882.36 1616.64 L882.59 1616.35 L882.81 1616.06 L883.04 1615.76 L883.27 1615.46 L883.49 1615.15 L883.72 1614.83 L883.95 1614.5 L884.17 1614.17 L884.4 1613.83 L884.63 1613.48 L884.86 1613.12 L885.08 1612.76 L885.31 1612.38 L885.54 1612 L885.76 1611.6 L885.99 1611.2 L886.22 1610.79 L886.44 1610.36 L886.67 1609.93 L886.9 1609.48 L887.12 1609.03 L887.35 1608.56 L887.58 1608.07 L887.8 1607.58 L888.03 1607.07 L888.26 1606.55 L888.49 1606.02 L888.71 1605.47 L888.94 1604.9 L889.17 1604.32 L889.39 1603.73 L889.62 1603.11 L889.85 1602.48 L890.07 1601.83 L890.3 1601.17 L890.53 1600.48 L890.75 1599.77 L890.98 1599.05 L891.21 1598.3 L891.43 1597.52 L891.66 1596.73 L891.89 1595.91 L892.12 1595.06 L892.34 1594.19 L892.57 1593.29 L892.8 1592.36 L893.02 1591.41 L893.25 1590.42 L893.48 1589.4 L893.7 1588.34 L893.93 1587.26 L894.16 1586.13 L894.38 1584.97 L894.61 1583.76 L894.84 1582.52 L895.06 1581.23 L895.29 1579.9 L895.52 1578.52 L895.75 1577.09 L895.97 1575.61 L896.2 1574.08 L896.43 1572.49 L896.65 1570.84 L896.88 1569.13 L897.11 1567.36 L897.33 1565.52 L897.56 1563.61 L897.79 1561.63 L898.01 1559.57 L898.24 1557.42 L898.47 1555.2 L898.69 1552.88 L898.92 1550.47 L899.15 1547.97 L899.38 1545.36 L899.6 1542.65 L899.83 1539.82 L900.06 1536.88 L900.28 1533.82 L900.51 1530.62 L900.74 1527.29 L900.96 1523.82 L901.19 1520.21 L901.42 1516.43 L901.64 1512.5 L901.87 1508.4 L902.1 1504.12 L902.32 1499.65 L902.55 1495 L902.78 1490.14 L903.01 1485.08 L903.23 1479.8 L903.46 1474.29 L903.69 1468.56 L903.91 1462.59 L904.14 1456.37 L904.37 1449.91 L904.59 1443.18 L904.82 1436.2 L905.05 1428.96 L905.27 1421.45 L905.5 1413.68 L905.73 1405.65 L905.95 1397.37 L906.18 1388.84 L906.41 1380.09 L906.64 1371.12 L906.86 1361.97 L907.09 1352.65 L907.32 1343.21 L907.54 1333.67 L907.77 1324.09 L908 1314.53 L908.22 1305.03 L908.45 1295.67 L908.68 1286.51 L908.9 1277.64 L909.13 1269.14 L909.36 1261.09 L909.58 1253.59 L909.81 1246.71 L910.04 1240.55 L910.27 1235.18 L910.49 1230.67 L910.72 1227.1 L910.95 1224.51 L911.17 1222.94 L911.4 1222.41 L911.63 1222.94 L911.85 1224.51 L912.08 1227.1 L912.31 1230.67 L912.53 1235.18 L912.76 1240.55 L912.99 1246.71 L913.22 1253.59 L913.44 1261.09 L913.67 1269.14 L913.9 1277.64 L914.12 1286.51 L914.35 1295.67 L914.58 1305.03 L914.8 1314.53 L915.03 1324.09 L915.26 1333.67 L915.48 1343.21 L915.71 1352.65 L915.94 1361.97 L916.16 1371.12 L916.39 1380.09 L916.62 1388.84 L916.85 1397.37 L917.07 1405.65 L917.3 1413.68 L917.53 1421.45 L917.75 1428.95 L917.98 1436.2 L918.21 1443.18 L918.43 1449.91 L918.66 1456.37 L918.89 1462.59 L919.11 1468.56 L919.34 1474.29 L919.57 1479.8 L919.79 1485.08 L920.02 1490.14 L920.25 1495 L920.48 1499.65 L920.7 1504.12 L920.93 1508.4 L921.16 1512.5 L921.38 1516.43 L921.61 1520.21 L921.84 1523.82 L922.06 1527.29 L922.29 1530.62 L922.52 1533.82 L922.74 1536.88 L922.97 1539.82 L923.2 1542.65 L923.42 1545.36 L923.65 1547.97 L923.88 1550.47 L924.11 1552.88 L924.33 1555.2 L924.56 1557.42 L924.79 1559.57 L925.01 1561.63 L925.24 1563.61 L925.47 1565.52 L925.69 1567.36 L925.92 1569.13 L926.15 1570.84 L926.37 1572.49 L926.6 1574.08 L926.83 1575.61 L927.05 1577.09 L927.28 1578.52 L927.51 1579.9 L927.74 1581.23 L927.96 1582.52 L928.19 1583.76 L928.42 1584.97 L928.64 1586.13 L928.87 1587.26 L929.1 1588.34 L929.32 1589.4 L929.55 1590.42 L929.78 1591.41 L930 1592.36 L930.23 1593.29 L930.46 1594.19 L930.68 1595.06 L930.91 1595.91 L931.14 1596.73 L931.37 1597.52 L931.59 1598.3 L931.82 1599.05 L932.05 1599.77 L932.27 1600.48 L932.5 1601.17 L932.73 1601.83 L932.95 1602.48 L933.18 1603.11 L933.41 1603.73 L933.63 1604.32 L933.86 1604.9 L934.09 1605.47 L934.31 1606.02 L934.54 1606.55 L934.77 1607.07 L935 1607.58 L935.22 1608.07 L935.45 1608.56 L935.68 1609.03 L935.9 1609.48 L936.13 1609.93 L936.36 1610.36 L936.58 1610.79 L936.81 1611.2 L937.04 1611.6 L937.26 1612 L937.49 1612.38 L937.72 1612.76 L937.94 1613.12 L938.17 1613.48 L938.4 1613.83 L938.62 1614.17 L938.85 1614.5 L939.08 1614.83 L939.31 1615.15 L939.53 1615.46 L939.76 1615.76 L939.99 1616.06 L940.21 1616.35 L940.44 1616.64 L940.67 1616.91 L940.89 1617.19 L941.12 1617.45 L941.35 1617.71 L941.57 1617.97 L941.8 1618.22 L942.03 1618.46 L942.25 1618.7 L942.48 1618.94 L942.71 1619.17 L942.94 1619.39 L943.16 1619.61 L943.39 1619.83 L943.62 1620.04 L943.84 1620.25 L944.07 1620.45 L944.3 1620.65 L944.52 1620.85 L944.75 1621.04 L944.98 1621.23 L945.2 1621.41 L945.43 1621.59 L945.66 1621.77 L945.88 1621.94 L946.11 1622.11 L946.34 1622.28 L946.57 1622.45 L946.79 1622.61 L947.02 1622.77 L947.25 1622.92 L947.47 1623.07 L947.7 1623.23 L947.93 1623.37 L948.15 1623.52 L948.38 1623.66 L948.61 1623.8 L948.83 1623.94 L949.06 1624.07 L949.29 1624.2 L949.51 1624.34 L949.74 1624.46 L949.97 1624.59 L950.2 1624.71 L950.42 1624.84 L950.65 1624.96 L950.88 1625.07 L951.1 1625.19 L951.33 1625.3 L951.56 1625.41 L951.78 1625.53 L952.01 1625.63 L952.24 1625.74 L952.46 1625.85 L952.69 1625.95 L952.92 1626.05 L953.14 1626.15 L953.37 1626.25 L953.6 1626.35 L953.83 1626.44 L954.05 1626.54 L954.28 1626.63 L954.51 1626.72 L954.73 1626.81 L954.96 1626.9 L955.19 1626.98 L955.41 1627.07 L955.64 1627.15 L955.87 1627.24 L956.09 1627.32 L956.32 1627.4 L956.55 1627.48 L956.77 1627.56 L957 1627.64 L957.23 1627.71 L957.46 1627.79 L957.68 1627.86 L957.91 1627.93 L958.14 1628.01 L958.36 1628.08 L958.59 1628.15 L958.82 1628.22 L959.04 1628.28 L959.27 1628.35 L959.5 1628.42 L959.72 1628.48 L959.95 1628.55 L960.18 1628.61 L960.4 1628.67 L960.63 1628.73 L960.86 1628.8 L961.09 1628.86 L961.31 1628.92 L961.54 1628.97 L961.77 1629.03 L961.99 1629.09 L962.22 1629.14 L962.45 1629.2 L962.67 1629.26 L962.9 1629.31 L963.13 1629.36 L963.35 1629.42 L963.58 1629.47 L963.81 1629.52 L964.03 1629.57 L964.26 1629.62 L964.49 1629.67 L964.72 1629.72 L964.94 1629.77 L965.17 1629.81 L965.4 1629.86 L965.62 1629.91 L965.85 1629.95 L966.08 1630 L966.3 1630.04 L966.53 1630.09 L966.76 1630.13 L966.98 1630.17 L967.21 1630.22 L967.44 1630.26 L967.66 1630.3 L967.89 1630.34 L968.12 1630.38 L968.35 1630.42 L968.57 1630.46 L968.8 1630.5 L969.03 1630.54 L969.25 1630.58 L969.48 1630.62 L969.71 1630.65 L969.93 1630.69 L970.16 1630.73 L970.39 1630.76 L970.61 1630.8 L970.84 1630.84 L971.07 1630.87 L971.29 1630.9 L971.52 1630.94 L971.75 1630.97 L971.98 1631.01 L972.2 1631.04 L972.43 1631.07 L972.66 1631.1 L972.88 1631.14 L973.11 1631.17 L973.34 1631.2 L973.56 1631.23 L973.79 1631.26 L974.02 1631.29 L974.24 1631.32 L974.47 1631.35 L974.7 1631.38 L974.92 1631.41 L975.15 1631.44 L975.38 1631.47 L975.61 1631.5 L975.83 1631.52 L976.06 1631.55 L976.29 1631.58 L976.51 1631.61 L976.74 1631.63 L976.97 1631.66 L977.19 1631.68 L977.42 1631.71 L977.65 1631.74 L977.87 1631.76 L978.1 1631.79 L978.33 1631.81 L978.55 1631.84 L978.78 1631.86 L979.01 1631.88 L979.24 1631.91 L979.46 1631.93 L979.69 1631.96 L979.92 1631.98 L980.14 1632 L980.37 1632.03 L980.6 1632.05 L980.82 1632.07 L981.05 1632.09 L981.28 1632.11 L981.5 1632.14 L981.73 1632.16 L981.96 1632.18 L982.19 1632.2 L982.41 1632.22 L982.64 1632.24 L982.87 1632.26 L983.09 1632.28 L983.32 1632.3 L983.55 1632.32 L983.77 1632.34 L984 1632.36 L984.23 1632.38 L984.45 1632.4 L984.68 1632.42 L984.91 1632.44 L985.13 1632.46 L985.36 1632.47 L985.59 1632.49 L985.81 1632.51 L986.04 1632.53 L986.27 1632.55 L986.5 1632.57 L986.72 1632.58 L986.95 1632.6 L987.18 1632.62 L987.4 1632.63 L987.63 1632.65 L987.86 1632.67 L988.08 1632.68 L988.31 1632.7 L988.54 1632.72 L988.76 1632.73 L988.99 1632.75 L989.22 1632.77 L989.44 1632.78 L989.67 1632.8 L989.9 1632.81 L990.13 1632.83 L990.35 1632.84 L990.58 1632.86 L990.81 1632.87 L991.03 1632.89 L991.26 1632.9 L991.49 1632.92 L991.71 1632.93 L991.94 1632.95 L992.17 1632.96 L992.39 1632.97 L992.62 1632.99 L992.85 1633 L993.07 1633.02 L993.3 1633.03 L993.53 1633.04 L993.76 1633.06 L993.98 1633.07 L994.21 1633.08 L994.44 1633.1 L994.66 1633.11 L994.89 1633.12 L995.12 1633.14 L995.34 1633.15 L995.57 1633.16 L995.8 1633.17 L996.02 1633.19 L996.25 1633.2 L996.48 1633.21 L996.7 1633.22 L996.93 1633.23 L997.16 1633.25 L997.39 1633.26 L997.61 1633.27 L997.84 1633.28 L998.07 1633.29 L998.29 1633.3 L998.52 1633.32 L998.75 1633.33 L998.97 1633.34 L999.2 1633.35 L999.43 1633.36 L999.65 1633.37 L999.88 1633.38 L1000.11 1633.39 L1000.33 1633.4 L1000.56 1633.41 L1000.79 1633.42 L1001.02 1633.43 L1001.24 1633.45 L1001.47 1633.46 L1001.7 1633.47 L1001.92 1633.48 L1002.15 1633.49 L1002.38 1633.5 L1002.6 1633.51 L1002.83 1633.52 L1003.06 1633.53 L1003.28 1633.53 L1003.51 1633.54 L1003.74 1633.55 L1003.97 1633.56 L1004.19 1633.57 L1004.42 1633.58 L1004.65 1633.59 L1004.87 1633.6 L1005.1 1633.61 L1005.33 1633.62 L1005.55 1633.63 L1005.78 1633.64 L1006.01 1633.65 L1006.23 1633.65 L1006.46 1633.66 L1006.69 1633.67 L1006.91 1633.68 L1007.14 1633.69 L1007.37 1633.7 L1007.6 1633.71 L1007.82 1633.71 L1008.05 1633.72 L1008.28 1633.73 L1008.5 1633.74 L1008.73 1633.75 L1008.96 1633.76 L1009.18 1633.76 L1009.41 1633.77 L1009.64 1633.78 L1009.86 1633.79 L1010.09 1633.8 L1010.32 1633.8 L1010.54 1633.81 L1010.77 1633.82 L1011 1633.83 L1011.23 1633.83 L1011.45 1633.84 L1011.68 1633.85 L1011.91 1633.86 L1012.13 1633.86 L1012.36 1633.87 L1012.59 1633.88 L1012.81 1633.89 L1013.04 1633.89 L1013.27 1633.9 L1013.49 1633.91 L1013.72 1633.91 L1013.95 1633.92 L1014.17 1633.93 L1014.4 1633.93 L1014.63 1633.94 L1014.86 1633.95 L1015.08 1633.96 L1015.31 1633.96 L1015.54 1633.97 L1015.76 1633.98 L1015.99 1633.98 L1016.22 1633.99 L1016.44 1633.99 L1016.67 1634 L1016.9 1634.01 L1017.12 1634.01 L1017.35 1634.02 L1017.58 1634.03 L1017.8 1634.03 L1018.03 1634.04 L1018.26 1634.05 L1018.49 1634.05 L1018.71 1634.06 L1018.94 1634.06 L1019.17 1634.07 L1019.39 1634.08 L1019.62 1634.08 L1019.85 1634.09 L1020.07 1634.09 L1020.3 1634.1 L1020.53 1634.1 L1020.75 1634.11 L1020.98 1634.12 L1021.21 1634.12 L1021.43 1634.13 L1021.66 1634.13 L1021.89 1634.14 L1022.12 1634.14 L1022.34 1634.15 L1022.57 1634.16 L1022.8 1634.16 L1023.02 1634.17 L1023.25 1634.17 L1023.48 1634.18 L1023.7 1634.18 L1023.93 1634.19 L1024.16 1634.19 L1024.38 1634.2 L1024.61 1634.2 L1024.84 1634.21 L1025.06 1634.21 L1025.29 1634.22 L1025.52 1634.22 L1025.75 1634.23 L1025.97 1634.23 L1026.2 1634.24 L1026.43 1634.24 L1026.65 1634.25 L1026.88 1634.25 L1027.11 1634.26 L1027.33 1634.26 L1027.56 1634.27 L1027.79 1634.27 L1028.01 1634.28 L1028.24 1634.28 L1028.47 1634.29 L1028.69 1634.29 L1028.92 1634.3 L1029.15 1634.3 L1029.38 1634.31 L1029.6 1634.31 L1029.83 1634.31 L1030.06 1634.32 L1030.28 1634.32 L1030.51 1634.33 L1030.74 1634.33 L1030.96 1634.34 L1031.19 1634.34 L1031.42 1634.35 L1031.64 1634.35 L1031.87 1634.35 L1032.1 1634.36 L1032.32 1634.36 L1032.55 1634.37 L1032.78 1634.37 L1033.01 1634.38 L1033.23 1634.38 L1033.46 1634.38 L1033.69 1634.39 L1033.91 1634.39 L1034.14 1634.4 L1034.37 1634.4 L1034.59 1634.4 L1034.82 1634.41 L1035.05 1634.41 L1035.27 1634.42 L1035.5 1634.42 L1035.73 1634.42 L1035.95 1634.43 L1036.18 1634.43 L1036.41 1634.44 L1036.63 1634.44 L1036.86 1634.44 L1037.09 1634.45 L1037.32 1634.45 L1037.54 1634.46 L1037.77 1634.46 L1038 1634.46 L1038.22 1634.47 L1038.45 1634.47 L1038.68 1634.47 L1038.9 1634.48 L1039.13 1634.48 L1039.36 1634.48 L1039.58 1634.49 L1039.81 1634.49 L1040.04 1634.5 L1040.27 1634.5 L1040.49 1634.5 L1040.72 1634.51 L1040.95 1634.51 L1041.17 1634.51 L1041.4 1634.52 L1041.63 1634.52 L1041.85 1634.52 L1042.08 1634.53 L1042.31 1634.53 L1042.53 1634.53 L1042.76 1634.54 L1042.99 1634.54 L1043.21 1634.54 L1043.44 1634.55 L1043.67 1634.55 L1043.89 1634.55 L1044.12 1634.56 L1044.35 1634.56 L1044.58 1634.56 L1044.8 1634.57 L1045.03 1634.57 L1045.26 1634.57 L1045.48 1634.57 L1045.71 1634.58 L1045.94 1634.58 L1046.16 1634.58 L1046.39 1634.59 L1046.62 1634.59 L1046.84 1634.59 L1047.07 1634.6 L1047.3 1634.6 L1047.53 1634.6 L1047.75 1634.61 L1047.98 1634.61 L1048.21 1634.61 L1048.43 1634.61 L1048.66 1634.62 L1048.89 1634.62 L1049.11 1634.62 L1049.34 1634.63 L1049.57 1634.63 L1049.79 1634.63 L1050.02 1634.63 L1050.25 1634.64 L1050.47 1634.64 L1050.7 1634.64 L1050.93 1634.65 L1051.16 1634.65 L1051.38 1634.65 L1051.61 1634.65 L1051.84 1634.66 L1052.06 1634.66 L1052.29 1634.66 L1052.52 1634.66 L1052.74 1634.67 L1052.97 1634.67 L1053.2 1634.67 L1053.42 1634.68 L1053.65 1634.68 L1053.88 1634.68 L1054.1 1634.68 L1054.33 1634.69 L1054.56 1634.69 L1054.79 1634.69 L1055.01 1634.69 L1055.24 1634.7 L1055.47 1634.7 L1055.69 1634.7 L1055.92 1634.7 L1056.15 1634.71 L1056.37 1634.71 L1056.6 1634.71 L1056.83 1634.71 L1057.05 1634.72 L1057.28 1634.72 L1057.51 1634.72 L1057.73 1634.72 L1057.96 1634.73 L1058.19 1634.73 L1058.42 1634.73 L1058.64 1634.73 L1058.87 1634.73 L1059.1 1634.74 L1059.32 1634.74 L1059.55 1634.74 L1059.78 1634.74 L1060 1634.75 L1060.23 1634.75 L1060.46 1634.75 L1060.68 1634.75 L1060.91 1634.76 L1061.14 1634.76 L1061.36 1634.76 L1061.59 1634.76 L1061.82 1634.76 L1062.05 1634.77 L1062.27 1634.77 L1062.5 1634.77 L1062.73 1634.77 L1062.95 1634.78 L1063.18 1634.78 L1063.41 1634.78 L1063.63 1634.78 L1063.86 1634.78 L1064.09 1634.79 L1064.31 1634.79 L1064.54 1634.79 L1064.77 1634.79 L1064.99 1634.79 L1065.22 1634.8 L1065.45 1634.8 L1065.68 1634.8 L1065.9 1634.8 L1066.13 1634.8 L1066.36 1634.81 L1066.58 1634.81 L1066.81 1634.81 L1067.04 1634.81 L1067.26 1634.81 L1067.49 1634.82 L1067.72 1634.82 L1067.94 1634.82 L1068.17 1634.82 L1068.4 1634.82 L1068.62 1634.83 L1068.85 1634.83 L1069.08 1634.83 L1069.31 1634.83 L1069.53 1634.83 L1069.76 1634.84 L1069.99 1634.84 L1070.21 1634.84 L1070.44 1634.84 L1070.67 1634.84 L1070.89 1634.85 L1071.12 1634.85 L1071.35 1634.85 L1071.57 1634.85 L1071.8 1634.85 L1072.03 1634.85 L1072.25 1634.86 L1072.48 1634.86 L1072.71 1634.86 L1072.94 1634.86 L1073.16 1634.86 L1073.39 1634.87 L1073.62 1634.87 L1073.84 1634.87 L1074.07 1634.87 L1074.3 1634.87 L1074.52 1634.87 L1074.75 1634.88 L1074.98 1634.88 L1075.2 1634.88 L1075.43 1634.88 L1075.66 1634.88 L1075.88 1634.88 L1076.11 1634.89 L1076.34 1634.89 L1076.57 1634.89 L1076.79 1634.89 L1077.02 1634.89 L1077.25 1634.89 L1077.47 1634.9 L1077.7 1634.9 L1077.93 1634.9 L1078.15 1634.9 L1078.38 1634.9 L1078.61 1634.9 L1078.83 1634.91 L1079.06 1634.91 L1079.29 1634.91 L1079.51 1634.91 L1079.74 1634.91 L1079.97 1634.91 L1080.2 1634.92 L1080.42 1634.92 L1080.65 1634.92 L1080.88 1634.92 L1081.1 1634.92 L1081.33 1634.92 L1081.56 1634.93 L1081.78 1634.93 L1082.01 1634.93 L1082.24 1634.93 L1082.46 1634.93 L1082.69 1634.93 L1082.92 1634.93 L1083.14 1634.94 L1083.37 1634.94 L1083.6 1634.94 L1083.83 1634.94 L1084.05 1634.94 L1084.28 1634.94 L1084.51 1634.94 L1084.73 1634.95 L1084.96 1634.95 L1085.19 1634.95 L1085.41 1634.95 L1085.64 1634.95 L1085.87 1634.95 L1086.09 1634.95 L1086.32 1634.96 L1086.55 1634.96 L1086.77 1634.96 L1087 1634.96 L1087.23 1634.96 L1087.46 1634.96 L1087.68 1634.96 L1087.91 1634.97 L1088.14 1634.97 L1088.36 1634.97 L1088.59 1634.97 L1088.82 1634.97 L1089.04 1634.97 L1089.27 1634.97 L1089.5 1634.98 L1089.72 1634.98 L1089.95 1634.98 L1090.18 1634.98 L1090.4 1634.98 L1090.63 1634.98 L1090.86 1634.98 L1091.09 1634.98 L1091.31 1634.99 L1091.54 1634.99 L1091.77 1634.99 L1091.99 1634.99 L1092.22 1634.99 L1092.45 1634.99 L1092.67 1634.99 L1092.9 1634.99 L1093.13 1635 L1093.35 1635 L1093.58 1635 L1093.81 1635 L1094.03 1635 L1094.26 1635 L1094.49 1635 L1094.72 1635 L1094.94 1635.01 L1095.17 1635.01 L1095.4 1635.01 L1095.62 1635.01 L1095.85 1635.01 L1096.08 1635.01 L1096.3 1635.01 L1096.53 1635.01 L1096.76 1635.02 L1096.98 1635.02 L1097.21 1635.02 L1097.44 1635.02 L1097.66 1635.02 L1097.89 1635.02 L1098.12 1635.02 L1098.35 1635.02 L1098.57 1635.02 L1098.8 1635.03 L1099.03 1635.03 L1099.25 1635.03 L1099.48 1635.03 L1099.71 1635.03 L1099.93 1635.03 L1100.16 1635.03 L1100.39 1635.03 L1100.61 1635.03 L1100.84 1635.04 L1101.07 1635.04 L1101.29 1635.04 L1101.52 1635.04 L1101.75 1635.04 L1101.98 1635.04 L1102.2 1635.04 L1102.43 1635.04 L1102.66 1635.04 L1102.88 1635.05 L1103.11 1635.05 L1103.34 1635.05 L1103.56 1635.05 L1103.79 1635.05 L1104.02 1635.05 L1104.24 1635.05 L1104.47 1635.05 L1104.7 1635.05 L1104.92 1635.06 L1105.15 1635.06 L1105.38 1635.06 L1105.61 1635.06 L1105.83 1635.06 L1106.06 1635.06 L1106.29 1635.06 L1106.51 1635.06 L1106.74 1635.06 L1106.97 1635.06 L1107.19 1635.07 L1107.42 1635.07 L1107.65 1635.07 L1107.87 1635.07 L1108.1 1635.07 L1108.33 1635.07 L1108.55 1635.07 L1108.78 1635.07 L1109.01 1635.07 L1109.24 1635.07 L1109.46 1635.08 L1109.69 1635.08 L1109.92 1635.08 L1110.14 1635.08 L1110.37 1635.08 L1110.6 1635.08 L1110.82 1635.08 L1111.05 1635.08 L1111.28 1635.08 L1111.5 1635.08 L1111.73 1635.09 L1111.96 1635.09 L1112.18 1635.09 L1112.41 1635.09 L1112.64 1635.09 L1112.87 1635.09 L1113.09 1635.09 L1113.32 1635.09 L1113.55 1635.09 L1113.77 1635.09 L1114 1635.09 L1114.23 1635.1 L1114.45 1635.1 L1114.68 1635.1 L1114.91 1635.1 L1115.13 1635.1 L1115.36 1635.1 L1115.59 1635.1 L1115.81 1635.1 L1116.04 1635.1 L1116.27 1635.1 L1116.5 1635.1 L1116.72 1635.1 L1116.95 1635.11 L1117.18 1635.11 L1117.4 1635.11 L1117.63 1635.11 L1117.86 1635.11 L1118.08 1635.11 L1118.31 1635.11 L1118.54 1635.11 L1118.76 1635.11 L1118.99 1635.11 L1119.22 1635.11 L1119.44 1635.12 L1119.67 1635.12 L1119.9 1635.12 L1120.12 1635.12 L1120.35 1635.12 L1120.58 1635.12 L1120.81 1635.12 L1121.03 1635.12 L1121.26 1635.12 L1121.49 1635.12 L1121.71 1635.12 L1121.94 1635.12 L1122.17 1635.13 L1122.39 1635.13 L1122.62 1635.13 L1122.85 1635.13 L1123.07 1635.13 L1123.3 1635.13 L1123.53 1635.13 L1123.76 1635.13 L1123.98 1635.13 L1124.21 1635.13 L1124.44 1635.13 L1124.66 1635.13 L1124.89 1635.13 L1125.12 1635.14 L1125.34 1635.14 L1125.57 1635.14 L1125.8 1635.14 L1126.02 1635.14 L1126.25 1635.14 L1126.48 1635.14 L1126.7 1635.14 L1126.93 1635.14 L1127.16 1635.14 L1127.38 1635.14 L1127.61 1635.14 L1127.84 1635.14 L1128.07 1635.15 L1128.29 1635.15 L1128.52 1635.15 L1128.75 1635.15 L1128.97 1635.15 L1129.2 1635.15 L1129.43 1635.15 L1129.65 1635.15 L1129.88 1635.15 L1130.11 1635.15 L1130.33 1635.15 L1130.56 1635.15 L1130.79 1635.15 L1131.02 1635.15 L1131.24 1635.16 L1131.47 1635.16 L1131.7 1635.16 L1131.92 1635.16 L1132.15 1635.16 L1132.38 1635.16 L1132.6 1635.16 L1132.83 1635.16 L1133.06 1635.16 L1133.28 1635.16 L1133.51 1635.16 L1133.74 1635.16 L1133.96 1635.16 L1134.19 1635.16 L1134.42 1635.17 L1134.64 1635.17 L1134.87 1635.17 L1135.1 1635.17 L1135.33 1635.17 L1135.55 1635.17 L1135.78 1635.17 L1136.01 1635.17 L1136.23 1635.17 L1136.46 1635.17 L1136.69 1635.17 L1136.91 1635.17 L1137.14 1635.17 L1137.37 1635.17 L1137.59 1635.17 L1137.82 1635.18 L1138.05 1635.18 L1138.28 1635.18 L1138.5 1635.18 L1138.73 1635.18 L1138.96 1635.18 L1139.18 1635.18 L1139.41 1635.18 L1139.64 1635.18 L1139.86 1635.18 L1140.09 1635.18 L1140.32 1635.18 L1140.54 1635.18 L1140.77 1635.18 L1141 1635.18 L1141.22 1635.18 L1141.45 1635.19 L1141.68 1635.19 L1141.91 1635.19 L1142.13 1635.19 L1142.36 1635.19 L1142.59 1635.19 L1142.81 1635.19 L1143.04 1635.19 L1143.27 1635.19 L1143.49 1635.19 L1143.72 1635.19 L1143.95 1635.19 L1144.17 1635.19 L1144.4 1635.19 L1144.63 1635.19 L1144.85 1635.19 L1145.08 1635.19 L1145.31 1635.2 L1145.54 1635.2 L1145.76 1635.2 L1145.99 1635.2 L1146.22 1635.2 L1146.44 1635.2 L1146.67 1635.2 L1146.9 1635.2 L1147.12 1635.2 L1147.35 1635.2 L1147.58 1635.2 L1147.8 1635.2 L1148.03 1635.2 L1148.26 1635.2 L1148.48 1635.2 L1148.71 1635.2 L1148.94 1635.2 L1149.17 1635.21 L1149.39 1635.21 L1149.62 1635.21 L1149.85 1635.21 L1150.07 1635.21 L1150.3 1635.21 L1150.53 1635.21 L1150.75 1635.21 L1150.98 1635.21 L1151.21 1635.21 L1151.43 1635.21 L1151.66 1635.21 L1151.89 1635.21 L1152.11 1635.21 L1152.34 1635.21 L1152.57 1635.21 L1152.8 1635.21 L1153.02 1635.21 L1153.25 1635.22 L1153.48 1635.22 L1153.7 1635.22 L1153.93 1635.22 L1154.16 1635.22 L1154.38 1635.22 L1154.61 1635.22 L1154.84 1635.22 L1155.06 1635.22 L1155.29 1635.22 L1155.52 1635.22 L1155.74 1635.22 L1155.97 1635.22 L1156.2 1635.22 L1156.43 1635.22 L1156.65 1635.22 L1156.88 1635.22 L1157.11 1635.22 L1157.33 1635.22 L1157.56 1635.23 L1157.79 1635.23 L1158.01 1635.23 L1158.24 1635.23 L1158.47 1635.23 L1158.69 1635.23 L1158.92 1635.23 L1159.15 1635.23 L1159.37 1635.23 L1159.6 1635.23 L1159.83 1635.23 L1160.06 1635.23 L1160.28 1635.23 L1160.51 1635.23 L1160.74 1635.23 L1160.96 1635.23 L1161.19 1635.23 L1161.42 1635.23 L1161.64 1635.23 L1161.87 1635.23 L1162.1 1635.23 L1162.32 1635.24 L1162.55 1635.24 L1162.78 1635.24 L1163 1635.24 L1163.23 1635.24 L1163.46 1635.24 L1163.69 1635.24 L1163.91 1635.24 L1164.14 1635.24 L1164.37 1635.24 L1164.59 1635.24 L1164.82 1635.24 L1165.05 1635.24 L1165.27 1635.24 L1165.5 1635.24 L1165.73 1635.24 L1165.95 1635.24 L1166.18 1635.24 L1166.41 1635.24 L1166.63 1635.24 L1166.86 1635.24 L1167.09 1635.25 L1167.32 1635.25 L1167.54 1635.25 L1167.77 1635.25 L1168 1635.25 L1168.22 1635.25 L1168.45 1635.25 L1168.68 1635.25 L1168.9 1635.25 L1169.13 1635.25 L1169.36 1635.25 L1169.58 1635.25 L1169.81 1635.25 L1170.04 1635.25 L1170.26 1635.25 L1170.49 1635.25 L1170.72 1635.25 L1170.95 1635.25 L1171.17 1635.25 L1171.4 1635.25 L1171.63 1635.25 L1171.85 1635.25 L1172.08 1635.25 L1172.31 1635.26 L1172.53 1635.26 L1172.76 1635.26 L1172.99 1635.26 L1173.21 1635.26 L1173.44 1635.26 L1173.67 1635.26 L1173.89 1635.26 L1174.12 1635.26 L1174.35 1635.26 L1174.58 1635.26 L1174.8 1635.26 L1175.03 1635.26 L1175.26 1635.26 L1175.48 1635.26 L1175.71 1635.26 L1175.94 1635.26 L1176.16 1635.26 L1176.39 1635.26 L1176.62 1635.26 L1176.84 1635.26 L1177.07 1635.26 L1177.3 1635.26 L1177.52 1635.26 L1177.75 1635.27 L1177.98 1635.27 L1178.21 1635.27 L1178.43 1635.27 L1178.66 1635.27 L1178.89 1635.27 L1179.11 1635.27 L1179.34 1635.27 L1179.57 1635.27 L1179.79 1635.27 L1180.02 1635.27 L1180.25 1635.27 L1180.47 1635.27 L1180.7 1635.27 L1180.93 1635.27 L1181.15 1635.27 L1181.38 1635.27 L1181.61 1635.27 L1181.84 1635.27 L1182.06 1635.27 L1182.29 1635.27 L1182.52 1635.27 L1182.74 1635.27 L1182.97 1635.27 L1183.2 1635.27 L1183.42 1635.27 L1183.65 1635.28" fill="none" stroke="#3953a4" stroke-width="2.6" stroke-linejoin="round" clip-path="url(#cf)"/>
<rect x="729.3" y="1201.6" width="454.7" height="454.4" fill="none" stroke="#231f20" stroke-width="1.8"/>
<path d="M723.3 1635.1H729.3M723.3 1534.1H729.3M723.3 1433.1H729.3M723.3 1332.1H729.3M723.3 1231.1H729.3" stroke="#231f20" stroke-width="1.8"/>
<path d="M729.5 1656V1662M911 1656V1662M1092.5 1656V1662" stroke="#231f20" stroke-width="1.8"/>
<text x="620.12" y="1167.75" textLength="35.52" lengthAdjust="spacingAndGlyphs">(f)</text>
<text x="682.68" y="1244.1" textLength="41.43" lengthAdjust="spacingAndGlyphs">20</text>
<path transform="translate(682.45 1345.3) scale(0.019944 -0.018410)" d="M763 0H583V1147Q518 1085 412.5 1023Q307 961 223 930V1104Q374 1175 487 1276Q600 1377 647 1472H763Z" fill="#231f20"/>
<text x="704.32" y="1345.3" textLength="19.82" lengthAdjust="spacingAndGlyphs">5</text>
<path transform="translate(682.45 1446.3) scale(0.019944 -0.018410)" d="M763 0H583V1147Q518 1085 412.5 1023Q307 961 223 930V1104Q374 1175 487 1276Q600 1377 647 1472H763Z" fill="#231f20"/>
<text x="704.34" y="1446.3" textLength="20.13" lengthAdjust="spacingAndGlyphs">0</text>
<text x="703.24" y="1547.1" textLength="21" lengthAdjust="spacingAndGlyphs">5</text>
<text x="703.5" y="1648.1" textLength="20.59" lengthAdjust="spacingAndGlyphs">0</text>
<text x="706.39" y="1694.4" textLength="20.79" lengthAdjust="spacingAndGlyphs">−</text>
<text x="734.45" y="1694.4" textLength="22.1" lengthAdjust="spacingAndGlyphs">2</text>
<text x="903.13" y="1694.4" textLength="20.24" lengthAdjust="spacingAndGlyphs">0</text>
<text x="1083.76" y="1693.5" textLength="20.88" lengthAdjust="spacingAndGlyphs">2</text>
<text x="870.11" y="1736.5" textLength="41.98" lengthAdjust="spacingAndGlyphs">(ω</text>
<text x="915.71" y="1736.5" textLength="20.55" lengthAdjust="spacingAndGlyphs">−</text>
<text x="952.73" y="1736.5" textLength="28.31" lengthAdjust="spacingAndGlyphs">ω</text>
<text x="980.95" y="1741.5" textLength="8.79" lengthAdjust="spacingAndGlyphs" style="font-size:24px;">r</text>
<text x="991.27" y="1736.5" textLength="10.17" lengthAdjust="spacingAndGlyphs">)</text>
<text x="1002.45" y="1736.5" textLength="9.6" lengthAdjust="spacingAndGlyphs">/</text>
<text x="1013.57" y="1736.5" textLength="19.67" lengthAdjust="spacingAndGlyphs">χ</text>
<text transform="translate(669.1 1621.81) rotate(-90)" x="0" y="0" textLength="434.12" lengthAdjust="spacingAndGlyphs">Normalized Transmittance</text>
<path d="M1016.3 1226.3 L1080.8 1226.3" fill="none" stroke="#ed1c24" stroke-width="2.6" stroke-linejoin="round"/>
<path d="M1016.3 1269.2 L1080.8 1269.2" fill="none" stroke="#3953a4" stroke-width="2.6" stroke-linejoin="round"/>
<text x="1103.66" y="1237.5" textLength="49.94" lengthAdjust="spacingAndGlyphs" style="font-size:32.3px;">N =</text>
<text x="1163.97" y="1237.8" textLength="16.75" lengthAdjust="spacingAndGlyphs" style="font-size:32.3px;">0</text>
<text x="1103.88" y="1280" textLength="49.61" lengthAdjust="spacingAndGlyphs" style="font-size:32.3px;">N =</text>
<path transform="translate(1163.18 1280) scale(0.016255 -0.015004)" d="M763 0H583V1147Q518 1085 412.5 1023Q307 961 223 930V1104Q374 1175 487 1276Q600 1377 647 1472H763Z" fill="#231f20"/>
</svg></body></html>
